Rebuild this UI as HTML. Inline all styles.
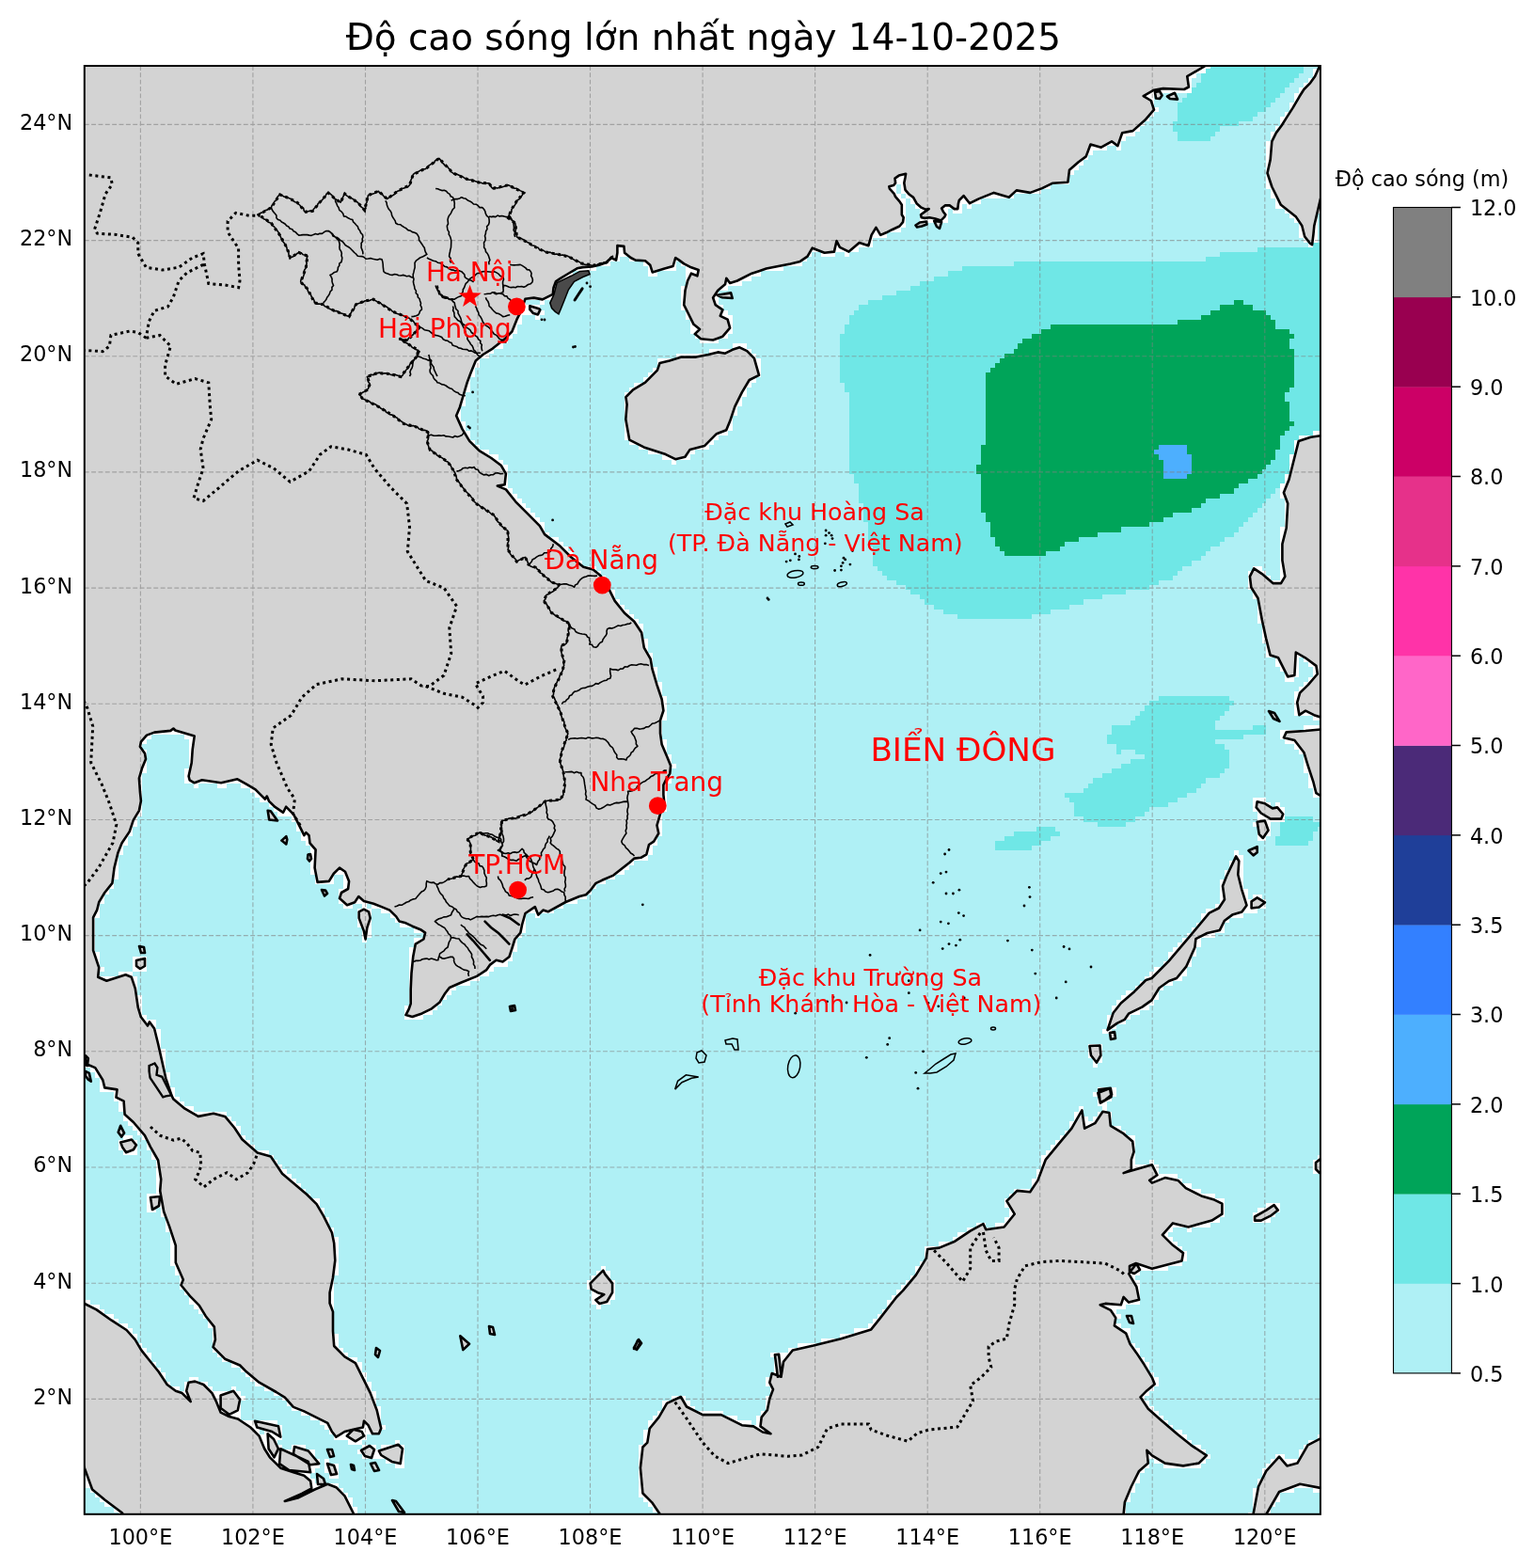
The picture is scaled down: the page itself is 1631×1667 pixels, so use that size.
<!DOCTYPE html><html><head><meta charset="utf-8"><style>html,body{margin:0;padding:0;background:#fff;}svg{display:block;}</style></head><body><svg width="1631" height="1667" viewBox="0 0 1631 1667">
<rect width="1631" height="1667" fill="#fff"/>
<defs><clipPath id="ax"><rect x="89.8" y="70.0" width="1314.1" height="1539.8"/></clipPath></defs>
<g clip-path="url(#ax)">
<rect x="89.8" y="70.0" width="1314.1" height="1539.8" fill="#aff0f5"/>
<path d="M913.1 514.2 913.1 534.8 918.1 534.8 918.1 555.3 923.1 555.3 923.1 581.0 928.0 581.0 928.0 601.5 933.0 601.5 933.0 606.6 938.0 606.6 938.0 611.8 943.0 611.8 943.0 616.9 952.9 616.9 952.9 622.0 962.9 622.0 962.9 627.2 967.9 627.2 967.9 632.3 977.8 632.3 977.8 637.4 982.8 637.4 982.8 642.5 992.8 642.5 992.8 647.7 1002.8 647.7 1002.8 652.8 1017.7 652.8 1017.7 657.9 1097.4 657.9 1097.4 652.8 1117.3 652.8 1117.3 647.7 1137.2 647.7 1137.2 642.5 1152.2 642.5 1152.2 637.4 1172.1 637.4 1172.1 632.3 1197.0 632.3 1197.0 627.2 1221.9 627.2 1221.9 622.0 1231.9 622.0 1231.9 616.9 1246.8 616.9 1246.8 611.8 1251.8 611.8 1251.8 606.6 1256.8 606.6 1256.8 601.5 1266.7 601.5 1266.7 596.4 1276.7 596.4 1276.7 591.2 1281.7 591.2 1281.7 586.1 1286.7 586.1 1286.7 581.0 1296.6 581.0 1296.6 575.8 1301.6 575.8 1301.6 570.7 1311.6 570.7 1311.6 565.6 1316.6 565.6 1316.6 560.4 1321.5 560.4 1321.5 555.3 1326.5 555.3 1326.5 550.2 1331.5 550.2 1331.5 545.0 1336.5 545.0 1336.5 539.9 1341.5 539.9 1341.5 534.8 1346.4 534.8 1346.4 529.6 1351.4 529.6 1351.4 524.5 1356.4 524.5 1356.4 519.4 1361.4 519.4 1361.4 514.2 1366.4 514.2 1366.4 504.0 1371.3 504.0 1371.3 498.8 1376.3 498.8 1376.3 493.7 1386.3 493.7 1386.3 488.6 1401.2 488.6 1401.2 483.4 1411.2 483.4 1411.2 257.6 1391.3 257.6 1391.3 262.7 1336.5 262.7 1336.5 267.9 1296.6 267.9 1296.6 273.0 1281.7 273.0 1281.7 278.1 1077.5 278.1 1077.5 283.3 1022.7 283.3 1022.7 288.4 1007.7 288.4 1007.7 293.5 992.8 293.5 992.8 298.7 977.8 298.7 977.8 303.8 967.9 303.8 967.9 308.9 952.9 308.9 952.9 314.1 938.0 314.1 938.0 319.2 923.1 319.2 923.1 324.3 913.1 324.3 913.1 329.5 908.1 329.5 908.1 334.6 903.1 334.6 903.1 344.9 898.1 344.9 898.1 355.1 893.2 355.1 893.2 406.5 898.1 406.5 898.1 416.7 903.1 416.7 903.1 504.0 908.1 504.0 908.1 514.2ZM1057.5 894.0 1057.5 904.3 1097.4 904.3 1097.4 899.2 1107.4 899.2 1107.4 894.0 1117.3 894.0 1117.3 888.9 1127.3 888.9 1127.3 883.8 1122.3 883.8 1122.3 878.6 1102.4 878.6 1102.4 883.8 1077.5 883.8 1077.5 888.9 1067.5 888.9 1067.5 894.0ZM1202.0 765.7 1202.0 770.9 1182.1 770.9 1182.1 781.1 1177.1 781.1 1177.1 791.4 1187.0 791.4 1187.0 801.7 1192.0 801.7 1192.0 796.5 1207.0 796.5 1207.0 801.7 1216.9 801.7 1216.9 806.8 1202.0 806.8 1202.0 811.9 1192.0 811.9 1192.0 817.1 1182.1 817.1 1182.1 822.2 1172.1 822.2 1172.1 827.3 1162.1 827.3 1162.1 832.5 1157.2 832.5 1157.2 837.6 1152.2 837.6 1152.2 842.7 1132.3 842.7 1132.3 847.8 1137.2 847.8 1137.2 853.0 1142.2 853.0 1142.2 868.4 1152.2 868.4 1152.2 873.5 1167.1 873.5 1167.1 878.6 1197.0 878.6 1197.0 873.5 1207.0 873.5 1207.0 868.4 1216.9 868.4 1216.9 863.2 1221.9 863.2 1221.9 858.1 1241.8 858.1 1241.8 853.0 1251.8 853.0 1251.8 847.8 1261.8 847.8 1261.8 842.7 1271.7 842.7 1271.7 837.6 1276.7 837.6 1276.7 832.5 1281.7 832.5 1281.7 827.3 1296.6 827.3 1296.6 822.2 1301.6 822.2 1301.6 817.1 1306.6 817.1 1306.6 796.5 1301.6 796.5 1301.6 791.4 1291.6 791.4 1291.6 786.3 1321.5 786.3 1321.5 781.1 1346.4 781.1 1346.4 770.9 1331.5 770.9 1331.5 776.0 1291.6 776.0 1291.6 765.7 1296.6 765.7 1296.6 760.6 1301.6 760.6 1301.6 755.5 1306.6 755.5 1306.6 750.3 1311.6 750.3 1311.6 745.2 1306.6 745.2 1306.6 740.1 1231.9 740.1 1231.9 745.2 1221.9 745.2 1221.9 750.3 1216.9 750.3 1216.9 755.5 1212.0 755.5 1212.0 760.6 1207.0 760.6 1207.0 765.7ZM1276.7 88.2 1271.7 88.2 1271.7 93.4 1266.7 93.4 1266.7 98.5 1261.8 98.5 1261.8 103.6 1256.8 103.6 1256.8 108.8 1251.8 108.8 1251.8 129.3 1246.8 129.3 1246.8 139.6 1251.8 139.6 1251.8 149.8 1286.7 149.8 1286.7 144.7 1291.6 144.7 1291.6 139.6 1296.6 139.6 1296.6 134.4 1316.6 134.4 1316.6 129.3 1331.5 129.3 1331.5 124.2 1336.5 124.2 1336.5 119.0 1346.4 119.0 1346.4 113.9 1351.4 113.9 1351.4 108.8 1356.4 108.8 1356.4 103.6 1361.4 103.6 1361.4 98.5 1366.4 98.5 1366.4 93.4 1371.3 93.4 1371.3 88.2 1376.3 88.2 1376.3 83.1 1381.3 83.1 1381.3 78.0 1386.3 78.0 1386.3 67.7 1391.3 67.7 1391.3 62.6 1281.7 62.6 1281.7 72.8 1276.7 72.8ZM1361.4 873.5 1361.4 888.9 1356.4 888.9 1356.4 899.2 1391.3 899.2 1391.3 894.0 1396.2 894.0 1396.2 883.8 1401.2 883.8 1401.2 878.6 1411.2 878.6 1411.2 873.5 1396.2 873.5 1396.2 868.4 1366.4 868.4 1366.4 873.5Z" fill="#6fe7e6" shape-rendering="crispEdges"/>
<path d="M1042.6 504.0 1042.6 545.0 1047.6 545.0 1047.6 555.3 1052.6 555.3 1052.6 570.7 1057.5 570.7 1057.5 581.0 1062.5 581.0 1062.5 586.1 1067.5 586.1 1067.5 591.2 1112.3 591.2 1112.3 586.1 1127.3 586.1 1127.3 581.0 1132.3 581.0 1132.3 575.8 1147.2 575.8 1147.2 570.7 1167.1 570.7 1167.1 565.6 1192.0 565.6 1192.0 560.4 1221.9 560.4 1221.9 555.3 1236.9 555.3 1236.9 550.2 1246.8 550.2 1246.8 545.0 1266.7 545.0 1266.7 539.9 1276.7 539.9 1276.7 534.8 1281.7 534.8 1281.7 529.6 1296.6 529.6 1296.6 524.5 1311.6 524.5 1311.6 519.4 1316.6 519.4 1316.6 514.2 1326.5 514.2 1326.5 509.1 1336.5 509.1 1336.5 504.0 1341.5 504.0 1341.5 498.8 1346.4 498.8 1346.4 493.7 1351.4 493.7 1351.4 488.6 1356.4 488.6 1356.4 478.3 1361.4 478.3 1361.4 462.9 1366.4 462.9 1366.4 457.8 1371.3 457.8 1371.3 452.6 1376.3 452.6 1376.3 447.5 1371.3 447.5 1371.3 427.0 1366.4 427.0 1366.4 416.7 1371.3 416.7 1371.3 411.6 1376.3 411.6 1376.3 370.5 1371.3 370.5 1371.3 360.3 1376.3 360.3 1376.3 355.1 1371.3 355.1 1371.3 350.0 1356.4 350.0 1356.4 339.7 1351.4 339.7 1351.4 334.6 1346.4 334.6 1346.4 329.5 1331.5 329.5 1331.5 324.3 1321.5 324.3 1321.5 319.2 1311.6 319.2 1311.6 324.3 1296.6 324.3 1296.6 329.5 1286.7 329.5 1286.7 334.6 1276.7 334.6 1276.7 339.7 1251.8 339.7 1251.8 344.9 1117.3 344.9 1117.3 350.0 1107.4 350.0 1107.4 355.1 1097.4 355.1 1097.4 360.3 1087.4 360.3 1087.4 365.4 1082.4 365.4 1082.4 370.5 1077.5 370.5 1077.5 375.7 1067.5 375.7 1067.5 380.8 1062.5 380.8 1062.5 385.9 1057.5 385.9 1057.5 391.1 1052.6 391.1 1052.6 396.2 1047.6 396.2 1047.6 473.2 1042.6 473.2 1042.6 493.7 1037.6 493.7 1037.6 504.0Z" fill="#00a459" shape-rendering="crispEdges"/>
<path d="M1231.9 473.2 1231.9 478.3 1226.9 478.3 1226.9 483.4 1231.9 483.4 1231.9 488.6 1236.9 488.6 1236.9 509.1 1261.8 509.1 1261.8 504.0 1266.7 504.0 1266.7 483.4 1261.8 483.4 1261.8 473.2Z" fill="#4daffe" shape-rendering="crispEdges"/>
<path d="M81.3 62.6 81.3 1130.1 86.2 1130.1 86.2 1135.3 96.2 1135.3 96.2 1140.4 101.2 1140.4 101.2 1145.5 106.2 1145.5 106.2 1160.9 121.1 1160.9 121.1 1171.2 126.1 1171.2 126.1 1181.5 131.1 1181.5 131.1 1191.7 136.1 1191.7 136.1 1196.9 141.0 1196.9 141.0 1202.0 146.0 1202.0 146.0 1207.1 151.0 1207.1 151.0 1212.3 156.0 1212.3 156.0 1222.5 161.0 1222.5 161.0 1232.8 165.9 1232.8 165.9 1268.7 156.0 1268.7 156.0 1289.2 165.9 1289.2 165.9 1284.1 170.9 1284.1 170.9 1294.4 175.9 1294.4 175.9 1309.8 180.9 1309.8 180.9 1345.7 185.9 1345.7 185.9 1356.0 190.8 1356.0 190.8 1371.4 195.8 1371.4 195.8 1376.5 200.8 1376.5 200.8 1386.8 205.8 1386.8 205.8 1391.9 210.8 1391.9 210.8 1397.0 215.8 1397.0 215.8 1402.2 220.7 1402.2 220.7 1412.4 225.7 1412.4 225.7 1438.1 230.7 1438.1 230.7 1443.2 235.7 1443.2 235.7 1448.4 245.6 1448.4 245.6 1453.5 255.6 1453.5 255.6 1458.6 260.6 1458.6 260.6 1463.7 265.6 1463.7 265.6 1468.9 270.5 1468.9 270.5 1474.0 280.5 1474.0 280.5 1479.1 290.5 1479.1 290.5 1484.3 300.4 1484.3 300.4 1489.4 305.4 1489.4 305.4 1494.5 310.4 1494.5 310.4 1499.7 320.4 1499.7 320.4 1504.8 330.3 1504.8 330.3 1509.9 340.3 1509.9 340.3 1515.1 345.3 1515.1 345.3 1520.2 350.2 1520.2 350.2 1525.3 355.2 1525.3 355.2 1530.5 370.2 1530.5 370.2 1535.6 385.1 1535.6 385.1 1530.5 390.1 1530.5 390.1 1525.3 405.0 1525.3 405.0 1520.2 410.0 1520.2 410.0 1515.1 405.0 1515.1 405.0 1494.5 400.0 1494.5 400.0 1479.1 395.1 1479.1 395.1 1468.9 390.1 1468.9 390.1 1458.6 385.1 1458.6 385.1 1448.4 380.1 1448.4 380.1 1443.2 370.2 1443.2 370.2 1438.1 365.2 1438.1 365.2 1433.0 360.2 1433.0 360.2 1417.6 355.2 1417.6 355.2 1356.0 360.2 1356.0 360.2 1314.9 355.2 1314.9 355.2 1304.6 350.2 1304.6 350.2 1294.4 345.3 1294.4 345.3 1284.1 340.3 1284.1 340.3 1273.8 330.3 1273.8 330.3 1268.7 325.3 1268.7 325.3 1263.6 320.4 1263.6 320.4 1258.4 315.4 1258.4 315.4 1253.3 310.4 1253.3 310.4 1248.2 305.4 1248.2 305.4 1243.0 300.4 1243.0 300.4 1237.9 295.4 1237.9 295.4 1232.8 290.5 1232.8 290.5 1227.7 285.5 1227.7 285.5 1222.5 270.5 1222.5 270.5 1217.4 265.6 1217.4 265.6 1212.3 260.6 1212.3 260.6 1207.1 255.6 1207.1 255.6 1196.9 250.6 1196.9 250.6 1191.7 245.6 1191.7 245.6 1186.6 240.7 1186.6 240.7 1181.5 205.8 1181.5 205.8 1176.3 195.8 1176.3 195.8 1171.2 190.8 1171.2 190.8 1166.1 185.9 1166.1 185.9 1155.8 180.9 1155.8 180.9 1140.4 175.9 1140.4 175.9 1114.7 170.9 1114.7 170.9 1094.2 165.9 1094.2 165.9 1083.9 156.0 1083.9 156.0 1078.8 151.0 1078.8 151.0 1058.3 146.0 1058.3 146.0 1037.8 141.0 1037.8 141.0 1032.6 126.1 1032.6 126.1 1037.8 106.2 1037.8 106.2 1032.6 111.2 1032.6 111.2 1027.5 106.2 1027.5 106.2 1012.1 101.2 1012.1 101.2 976.2 106.2 976.2 106.2 960.8 111.2 960.8 111.2 950.5 116.1 950.5 116.1 945.4 121.1 945.4 121.1 935.1 126.1 935.1 126.1 909.4 131.1 909.4 131.1 899.2 136.1 899.2 136.1 888.9 141.0 888.9 141.0 878.6 146.0 878.6 146.0 868.4 151.0 868.4 151.0 822.2 156.0 822.2 156.0 796.5 151.0 796.5 151.0 791.4 156.0 791.4 156.0 786.3 161.0 786.3 161.0 781.1 195.8 781.1 195.8 786.3 200.8 786.3 200.8 817.1 195.8 817.1 195.8 832.5 205.8 832.5 205.8 837.6 210.8 837.6 210.8 832.5 230.7 832.5 230.7 837.6 240.7 837.6 240.7 832.5 255.6 832.5 255.6 837.6 265.6 837.6 265.6 842.7 270.5 842.7 270.5 847.8 275.5 847.8 275.5 853.0 285.5 853.0 285.5 858.1 290.5 858.1 290.5 863.2 295.4 863.2 295.4 868.4 310.4 868.4 310.4 873.5 315.4 873.5 315.4 883.8 320.4 883.8 320.4 894.0 325.3 894.0 325.3 899.2 330.3 899.2 330.3 930.0 335.3 930.0 335.3 940.2 355.2 940.2 355.2 930.0 365.2 930.0 365.2 945.4 360.2 945.4 360.2 960.8 365.2 960.8 365.2 965.9 375.1 965.9 375.1 960.8 385.1 960.8 385.1 965.9 380.1 965.9 380.1 986.4 385.1 986.4 385.1 1001.8 390.1 1001.8 390.1 996.7 395.1 996.7 395.1 965.9 405.0 965.9 405.0 971.0 415.0 971.0 415.0 976.2 420.0 976.2 420.0 981.3 425.0 981.3 425.0 986.4 439.9 986.4 439.9 991.6 449.9 991.6 449.9 996.7 439.9 996.7 439.9 1007.0 434.9 1007.0 434.9 1068.5 429.9 1068.5 429.9 1083.9 449.9 1083.9 449.9 1078.8 459.8 1078.8 459.8 1073.7 464.8 1073.7 464.8 1068.5 469.8 1068.5 469.8 1063.4 474.8 1063.4 474.8 1058.3 479.7 1058.3 479.7 1053.1 484.7 1053.1 484.7 1048.0 499.7 1048.0 499.7 1042.9 509.6 1042.9 509.6 1037.8 519.6 1037.8 519.6 1032.6 524.6 1032.6 524.6 1027.5 539.5 1027.5 539.5 1022.4 544.5 1022.4 544.5 1012.1 549.5 1012.1 549.5 996.7 554.5 996.7 554.5 991.6 559.4 991.6 559.4 971.0 569.4 971.0 569.4 976.2 574.4 976.2 574.4 971.0 589.3 971.0 589.3 965.9 599.3 965.9 599.3 960.8 614.2 960.8 614.2 955.6 624.2 955.6 624.2 950.5 629.2 950.5 629.2 945.4 634.2 945.4 634.2 940.2 644.1 940.2 644.1 935.1 654.1 935.1 654.1 930.0 664.0 930.0 664.0 924.8 669.0 924.8 669.0 919.7 674.0 919.7 674.0 914.6 688.9 914.6 688.9 909.4 693.9 909.4 693.9 899.2 698.9 899.2 698.9 888.9 703.9 888.9 703.9 863.2 708.9 863.2 708.9 832.5 713.9 832.5 713.9 817.1 718.8 817.1 718.8 811.9 713.9 811.9 713.9 801.7 708.9 801.7 708.9 786.3 703.9 786.3 703.9 765.7 708.9 765.7 708.9 740.1 703.9 740.1 703.9 724.7 698.9 724.7 698.9 709.3 693.9 709.3 693.9 693.9 688.9 693.9 688.9 678.5 684.0 678.5 684.0 663.1 679.0 663.1 679.0 657.9 674.0 657.9 674.0 652.8 669.0 652.8 669.0 647.7 664.0 647.7 664.0 642.5 659.1 642.5 659.1 637.4 654.1 637.4 654.1 627.2 649.1 627.2 649.1 616.9 644.1 616.9 644.1 611.8 639.1 611.8 639.1 606.6 634.2 606.6 634.2 601.5 619.2 601.5 619.2 596.4 614.2 596.4 614.2 591.2 609.3 591.2 609.3 586.1 604.3 586.1 604.3 581.0 599.3 581.0 599.3 575.8 594.3 575.8 594.3 570.7 584.3 570.7 584.3 565.6 579.4 565.6 579.4 555.3 574.4 555.3 574.4 550.2 569.4 550.2 569.4 545.0 564.4 545.0 564.4 539.9 559.4 539.9 559.4 534.8 554.5 534.8 554.5 529.6 549.5 529.6 549.5 524.5 544.5 524.5 544.5 519.4 539.5 519.4 539.5 493.7 534.5 493.7 534.5 488.6 529.6 488.6 529.6 483.4 519.6 483.4 519.6 478.3 509.6 478.3 509.6 473.2 504.6 473.2 504.6 468.0 499.7 468.0 499.7 457.8 494.7 457.8 494.7 447.5 489.7 447.5 489.7 432.1 494.7 432.1 494.7 416.7 499.7 416.7 499.7 401.3 504.6 401.3 504.6 391.1 509.6 391.1 509.6 380.8 519.6 380.8 519.6 375.7 524.6 375.7 524.6 370.5 534.5 370.5 534.5 365.4 539.5 365.4 539.5 360.3 544.5 360.3 544.5 355.1 549.5 355.1 549.5 344.9 554.5 344.9 554.5 334.6 569.4 334.6 569.4 339.7 574.4 339.7 574.4 334.6 579.4 334.6 579.4 329.5 574.4 329.5 574.4 324.3 579.4 324.3 579.4 319.2 589.3 319.2 589.3 308.9 594.3 308.9 594.3 298.7 604.3 298.7 604.3 293.5 609.3 293.5 609.3 288.4 634.2 288.4 634.2 283.3 649.1 283.3 649.1 278.1 659.1 278.1 659.1 273.0 669.0 273.0 669.0 278.1 684.0 278.1 684.0 283.3 688.9 283.3 688.9 293.5 698.9 293.5 698.9 288.4 718.8 288.4 718.8 278.1 723.8 278.1 723.8 283.3 728.8 283.3 728.8 303.8 723.8 303.8 723.8 329.5 728.8 329.5 728.8 339.7 733.8 339.7 733.8 355.1 738.8 355.1 738.8 360.3 743.7 360.3 743.7 365.4 763.7 365.4 763.7 360.3 773.6 360.3 773.6 355.1 778.6 355.1 778.6 334.6 773.6 334.6 773.6 329.5 768.6 329.5 768.6 324.3 763.7 324.3 763.7 308.9 773.6 308.9 773.6 303.8 788.6 303.8 788.6 298.7 798.5 298.7 798.5 293.5 808.5 293.5 808.5 288.4 833.4 288.4 833.4 283.3 853.3 283.3 853.3 278.1 858.3 278.1 858.3 273.0 863.3 273.0 863.3 267.9 873.2 267.9 873.2 273.0 888.2 273.0 888.2 267.9 898.1 267.9 898.1 273.0 903.1 273.0 903.1 267.9 913.1 267.9 913.1 262.7 928.0 262.7 928.0 252.5 943.0 252.5 943.0 247.3 957.9 247.3 957.9 242.2 962.9 242.2 962.9 211.4 967.9 211.4 967.9 216.5 972.9 216.5 972.9 221.7 977.8 221.7 977.8 237.1 1007.7 237.1 1007.7 221.7 1012.7 221.7 1012.7 226.8 1022.7 226.8 1022.7 216.5 1027.7 216.5 1027.7 221.7 1032.6 221.7 1032.6 216.5 1042.6 216.5 1042.6 211.4 1077.5 211.4 1077.5 206.3 1107.4 206.3 1107.4 201.2 1117.3 201.2 1117.3 196.0 1137.2 196.0 1137.2 185.8 1142.2 185.8 1142.2 180.6 1147.2 180.6 1147.2 175.5 1152.2 175.5 1152.2 170.4 1157.2 170.4 1157.2 165.2 1162.1 165.2 1162.1 160.1 1177.1 160.1 1177.1 155.0 1187.0 155.0 1187.0 160.1 1192.0 160.1 1192.0 149.8 1197.0 149.8 1197.0 144.7 1207.0 144.7 1207.0 139.6 1212.0 139.6 1212.0 134.4 1216.9 134.4 1216.9 129.3 1221.9 129.3 1221.9 124.2 1226.9 124.2 1226.9 119.0 1231.9 119.0 1231.9 113.9 1226.9 113.9 1226.9 98.5 1266.7 98.5 1266.7 83.1 1271.7 83.1 1271.7 78.0 1281.7 78.0 1281.7 72.8 1286.7 72.8 1286.7 62.6ZM390.1 965.9 390.1 960.8 395.1 960.8 395.1 965.9ZM559.4 324.3 559.4 319.2 574.4 319.2 574.4 324.3ZM957.9 211.4 957.9 206.3 962.9 206.3 962.9 211.4ZM952.9 206.3 952.9 196.0 957.9 196.0 957.9 206.3ZM141.0 1207.1 131.1 1207.1 131.1 1212.3 126.1 1212.3 126.1 1222.5 131.1 1222.5 131.1 1227.7 146.0 1227.7 146.0 1212.3 141.0 1212.3ZM81.3 1381.6 81.3 1556.1 86.2 1556.1 86.2 1566.4 91.2 1566.4 91.2 1581.8 96.2 1581.8 96.2 1586.9 101.2 1586.9 101.2 1592.1 106.2 1592.1 106.2 1597.2 111.2 1597.2 111.2 1602.3 121.1 1602.3 121.1 1607.5 126.1 1607.5 126.1 1612.6 131.1 1612.6 131.1 1617.7 380.1 1617.7 380.1 1602.3 375.1 1602.3 375.1 1592.1 370.2 1592.1 370.2 1586.9 365.2 1586.9 365.2 1581.8 360.2 1581.8 360.2 1576.7 335.3 1576.7 335.3 1571.5 330.3 1571.5 330.3 1566.4 335.3 1566.4 335.3 1561.3 340.3 1561.3 340.3 1551.0 335.3 1551.0 335.3 1540.7 325.3 1540.7 325.3 1535.6 310.4 1535.6 310.4 1540.7 300.4 1540.7 300.4 1535.6 295.4 1535.6 295.4 1530.5 300.4 1530.5 300.4 1515.1 295.4 1515.1 295.4 1509.9 255.6 1509.9 255.6 1489.4 260.6 1489.4 260.6 1484.3 255.6 1484.3 255.6 1479.1 250.6 1479.1 250.6 1474.0 245.6 1474.0 245.6 1479.1 225.7 1479.1 225.7 1474.0 220.7 1474.0 220.7 1468.9 210.8 1468.9 210.8 1463.7 200.8 1463.7 200.8 1468.9 195.8 1468.9 195.8 1479.1 190.8 1479.1 190.8 1474.0 180.9 1474.0 180.9 1468.9 175.9 1468.9 175.9 1458.6 170.9 1458.6 170.9 1453.5 165.9 1453.5 165.9 1448.4 161.0 1448.4 161.0 1438.1 156.0 1438.1 156.0 1433.0 151.0 1433.0 151.0 1427.8 146.0 1427.8 146.0 1417.6 141.0 1417.6 141.0 1412.4 136.1 1412.4 136.1 1407.3 126.1 1407.3 126.1 1402.2 121.1 1402.2 121.1 1397.0 111.2 1397.0 111.2 1391.9 106.2 1391.9 106.2 1386.8 96.2 1386.8 96.2 1381.6ZM275.5 1520.2 280.5 1520.2 280.5 1525.3 275.5 1525.3ZM141.0 1017.2 141.0 1032.6 156.0 1032.6 156.0 1017.2ZM360.2 1571.5 360.2 1556.1 350.2 1556.1 350.2 1551.0 345.3 1551.0 345.3 1566.4 350.2 1566.4 350.2 1571.5ZM405.0 1535.6 405.0 1540.7 400.0 1540.7 400.0 1535.6 385.1 1535.6 385.1 1540.7 380.1 1540.7 380.1 1545.9 385.1 1545.9 385.1 1551.0 410.0 1551.0 410.0 1556.1 420.0 1556.1 420.0 1561.3 429.9 1561.3 429.9 1535.6 425.0 1535.6 425.0 1530.5 420.0 1530.5 420.0 1535.6ZM688.9 478.3 688.9 483.4 703.9 483.4 703.9 488.6 713.9 488.6 713.9 493.7 718.8 493.7 718.8 488.6 733.8 488.6 733.8 483.4 738.8 483.4 738.8 478.3 753.7 478.3 753.7 473.2 758.7 473.2 758.7 468.0 763.7 468.0 763.7 462.9 773.6 462.9 773.6 457.8 778.6 457.8 778.6 442.4 783.6 442.4 783.6 432.1 788.6 432.1 788.6 421.9 793.5 421.9 793.5 411.6 798.5 411.6 798.5 406.5 803.5 406.5 803.5 401.3 808.5 401.3 808.5 380.8 803.5 380.8 803.5 375.7 798.5 375.7 798.5 370.5 793.5 370.5 793.5 365.4 778.6 365.4 778.6 370.5 753.7 370.5 753.7 375.7 718.8 375.7 718.8 380.8 698.9 380.8 698.9 391.1 693.9 391.1 693.9 396.2 688.9 396.2 688.9 401.3 684.0 401.3 684.0 406.5 674.0 406.5 674.0 411.6 669.0 411.6 669.0 416.7 664.0 416.7 664.0 468.0 669.0 468.0 669.0 473.2 679.0 473.2 679.0 478.3ZM629.2 1361.1 624.2 1361.1 624.2 1371.4 629.2 1371.4 629.2 1386.8 634.2 1386.8 634.2 1391.9 639.1 1391.9 639.1 1386.8 649.1 1386.8 649.1 1381.6 654.1 1381.6 654.1 1361.1 649.1 1361.1 649.1 1350.8 644.1 1350.8 644.1 1345.7 639.1 1345.7 639.1 1350.8 634.2 1350.8 634.2 1356.0 629.2 1356.0ZM823.4 1443.2 823.4 1458.6 818.5 1458.6 818.5 1463.7 813.5 1463.7 813.5 1474.0 818.5 1474.0 818.5 1484.3 813.5 1484.3 813.5 1499.7 808.5 1499.7 808.5 1504.8 803.5 1504.8 803.5 1515.1 798.5 1515.1 798.5 1509.9 783.6 1509.9 783.6 1504.8 768.6 1504.8 768.6 1499.7 738.8 1499.7 738.8 1494.5 733.8 1494.5 733.8 1489.4 728.8 1489.4 728.8 1484.3 713.9 1484.3 713.9 1489.4 703.9 1489.4 703.9 1499.7 698.9 1499.7 698.9 1504.8 693.9 1504.8 693.9 1509.9 688.9 1509.9 688.9 1520.2 684.0 1520.2 684.0 1535.6 679.0 1535.6 679.0 1592.1 684.0 1592.1 684.0 1597.2 688.9 1597.2 688.9 1602.3 693.9 1602.3 693.9 1607.5 698.9 1607.5 698.9 1617.7 1197.0 1617.7 1197.0 1597.2 1202.0 1597.2 1202.0 1586.9 1207.0 1586.9 1207.0 1576.7 1212.0 1576.7 1212.0 1566.4 1216.9 1566.4 1216.9 1561.3 1221.9 1561.3 1221.9 1551.0 1226.9 1551.0 1226.9 1556.1 1236.9 1556.1 1236.9 1561.3 1276.7 1561.3 1276.7 1556.1 1281.7 1556.1 1281.7 1551.0 1286.7 1551.0 1286.7 1545.9 1281.7 1545.9 1281.7 1540.7 1276.7 1540.7 1276.7 1535.6 1266.7 1535.6 1266.7 1530.5 1261.8 1530.5 1261.8 1525.3 1256.8 1525.3 1256.8 1520.2 1246.8 1520.2 1246.8 1515.1 1241.8 1515.1 1241.8 1509.9 1236.9 1509.9 1236.9 1504.8 1231.9 1504.8 1231.9 1499.7 1226.9 1499.7 1226.9 1494.5 1221.9 1494.5 1221.9 1489.4 1216.9 1489.4 1216.9 1484.3 1221.9 1484.3 1221.9 1479.1 1226.9 1479.1 1226.9 1474.0 1231.9 1474.0 1231.9 1463.7 1226.9 1463.7 1226.9 1458.6 1221.9 1458.6 1221.9 1448.4 1216.9 1448.4 1216.9 1443.2 1212.0 1443.2 1212.0 1433.0 1207.0 1433.0 1207.0 1427.8 1202.0 1427.8 1202.0 1412.4 1192.0 1412.4 1192.0 1407.3 1187.0 1407.3 1187.0 1402.2 1192.0 1402.2 1192.0 1397.0 1187.0 1397.0 1187.0 1391.9 1197.0 1391.9 1197.0 1386.8 1212.0 1386.8 1212.0 1361.1 1207.0 1361.1 1207.0 1356.0 1212.0 1356.0 1212.0 1350.8 1241.8 1350.8 1241.8 1345.7 1256.8 1345.7 1256.8 1340.6 1261.8 1340.6 1261.8 1330.3 1256.8 1330.3 1256.8 1325.2 1251.8 1325.2 1251.8 1320.0 1246.8 1320.0 1246.8 1314.9 1241.8 1314.9 1241.8 1309.8 1246.8 1309.8 1246.8 1304.6 1261.8 1304.6 1261.8 1309.8 1266.7 1309.8 1266.7 1304.6 1286.7 1304.6 1286.7 1299.5 1296.6 1299.5 1296.6 1294.4 1301.6 1294.4 1301.6 1273.8 1291.6 1273.8 1291.6 1268.7 1276.7 1268.7 1276.7 1263.6 1266.7 1263.6 1266.7 1258.4 1256.8 1258.4 1256.8 1253.3 1251.8 1253.3 1251.8 1248.2 1231.9 1248.2 1231.9 1237.9 1226.9 1237.9 1226.9 1232.8 1221.9 1232.8 1221.9 1237.9 1207.0 1237.9 1207.0 1207.1 1197.0 1207.1 1197.0 1202.0 1192.0 1202.0 1192.0 1196.9 1182.1 1196.9 1182.1 1181.5 1177.1 1181.5 1177.1 1171.2 1182.1 1171.2 1182.1 1166.1 1187.0 1166.1 1187.0 1155.8 1167.1 1155.8 1167.1 1160.9 1162.1 1160.9 1162.1 1166.1 1167.1 1166.1 1167.1 1176.3 1172.1 1176.3 1172.1 1181.5 1167.1 1181.5 1167.1 1186.6 1162.1 1186.6 1162.1 1191.7 1157.2 1191.7 1157.2 1186.6 1152.2 1186.6 1152.2 1176.3 1147.2 1176.3 1147.2 1181.5 1142.2 1181.5 1142.2 1191.7 1137.2 1191.7 1137.2 1202.0 1132.3 1202.0 1132.3 1207.1 1127.3 1207.1 1127.3 1212.3 1122.3 1212.3 1122.3 1217.4 1117.3 1217.4 1117.3 1222.5 1112.3 1222.5 1112.3 1227.7 1107.4 1227.7 1107.4 1243.0 1102.4 1243.0 1102.4 1253.3 1097.4 1253.3 1097.4 1263.6 1077.5 1263.6 1077.5 1268.7 1072.5 1268.7 1072.5 1273.8 1067.5 1273.8 1067.5 1284.1 1072.5 1284.1 1072.5 1294.4 1067.5 1294.4 1067.5 1299.5 1057.5 1299.5 1057.5 1304.6 1047.6 1304.6 1047.6 1299.5 1037.6 1299.5 1037.6 1304.6 1027.7 1304.6 1027.7 1309.8 1017.7 1309.8 1017.7 1314.9 1012.7 1314.9 1012.7 1320.0 997.8 1320.0 997.8 1325.2 982.8 1325.2 982.8 1340.6 977.8 1340.6 977.8 1345.7 972.9 1345.7 972.9 1356.0 967.9 1356.0 967.9 1361.1 962.9 1361.1 962.9 1366.2 957.9 1366.2 957.9 1371.4 952.9 1371.4 952.9 1376.5 948.0 1376.5 948.0 1381.6 943.0 1381.6 943.0 1391.9 938.0 1391.9 938.0 1397.0 933.0 1397.0 933.0 1402.2 928.0 1402.2 928.0 1407.3 923.1 1407.3 923.1 1412.4 908.1 1412.4 908.1 1417.6 893.2 1417.6 893.2 1422.7 873.2 1422.7 873.2 1427.8 848.3 1427.8 848.3 1433.0 838.4 1433.0 838.4 1438.1 818.5 1438.1 818.5 1443.2ZM1236.9 1022.4 1236.9 1027.5 1226.9 1027.5 1226.9 1032.6 1221.9 1032.6 1221.9 1037.8 1216.9 1037.8 1216.9 1042.9 1212.0 1042.9 1212.0 1048.0 1207.0 1048.0 1207.0 1053.1 1197.0 1053.1 1197.0 1058.3 1192.0 1058.3 1192.0 1063.4 1187.0 1063.4 1187.0 1068.5 1182.1 1068.5 1182.1 1078.8 1177.1 1078.8 1177.1 1094.2 1172.1 1094.2 1172.1 1099.3 1182.1 1099.3 1182.1 1094.2 1187.0 1094.2 1187.0 1089.1 1197.0 1089.1 1197.0 1083.9 1202.0 1083.9 1202.0 1078.8 1212.0 1078.8 1212.0 1073.7 1221.9 1073.7 1221.9 1068.5 1226.9 1068.5 1226.9 1063.4 1231.9 1063.4 1231.9 1053.1 1236.9 1053.1 1236.9 1048.0 1246.8 1048.0 1246.8 1042.9 1256.8 1042.9 1256.8 1037.8 1261.8 1037.8 1261.8 1027.5 1266.7 1027.5 1266.7 1017.2 1271.7 1017.2 1271.7 1007.0 1276.7 1007.0 1276.7 996.7 1291.6 996.7 1291.6 991.6 1301.6 991.6 1301.6 981.3 1306.6 981.3 1306.6 976.2 1321.5 976.2 1321.5 971.0 1336.5 971.0 1336.5 965.9 1346.4 965.9 1346.4 955.6 1341.5 955.6 1341.5 950.5 1331.5 950.5 1331.5 955.6 1326.5 955.6 1326.5 945.4 1321.5 945.4 1321.5 909.4 1316.6 909.4 1316.6 904.3 1311.6 904.3 1311.6 914.6 1306.6 914.6 1306.6 924.8 1301.6 924.8 1301.6 935.1 1296.6 935.1 1296.6 960.8 1291.6 960.8 1291.6 965.9 1281.7 965.9 1281.7 971.0 1276.7 971.0 1276.7 981.3 1271.7 981.3 1271.7 986.4 1266.7 986.4 1266.7 991.6 1261.8 991.6 1261.8 996.7 1256.8 996.7 1256.8 1001.8 1251.8 1001.8 1251.8 1007.0 1246.8 1007.0 1246.8 1012.1 1241.8 1012.1 1241.8 1022.4ZM1167.1 1130.1 1172.1 1130.1 1172.1 1109.6 1157.2 1109.6 1157.2 1125.0 1162.1 1125.0 1162.1 1135.3 1167.1 1135.3ZM1351.4 139.6 1351.4 149.8 1346.4 149.8 1346.4 201.2 1351.4 201.2 1351.4 211.4 1356.4 211.4 1356.4 221.7 1366.4 221.7 1366.4 226.8 1371.3 226.8 1371.3 231.9 1376.3 231.9 1376.3 237.1 1381.3 237.1 1381.3 252.5 1386.3 252.5 1386.3 257.6 1391.3 257.6 1391.3 262.7 1396.2 262.7 1396.2 257.6 1401.2 257.6 1401.2 226.8 1406.2 226.8 1406.2 211.4 1411.2 211.4 1411.2 62.6 1401.2 62.6 1401.2 72.8 1396.2 72.8 1396.2 83.1 1391.3 83.1 1391.3 88.2 1386.3 88.2 1386.3 93.4 1381.3 93.4 1381.3 98.5 1376.3 98.5 1376.3 108.8 1371.3 108.8 1371.3 119.0 1366.4 119.0 1366.4 124.2 1361.4 124.2 1361.4 134.4 1356.4 134.4 1356.4 139.6ZM1411.2 765.7 1411.2 457.8 1396.2 457.8 1396.2 462.9 1381.3 462.9 1381.3 468.0 1376.3 468.0 1376.3 483.4 1371.3 483.4 1371.3 504.0 1366.4 504.0 1366.4 514.2 1361.4 514.2 1361.4 529.6 1366.4 529.6 1366.4 560.4 1361.4 560.4 1361.4 616.9 1351.4 616.9 1351.4 611.8 1346.4 611.8 1346.4 606.6 1341.5 606.6 1341.5 601.5 1331.5 601.5 1331.5 606.6 1326.5 606.6 1326.5 627.2 1331.5 627.2 1331.5 637.4 1336.5 637.4 1336.5 663.1 1341.5 663.1 1341.5 683.6 1346.4 683.6 1346.4 699.0 1356.4 699.0 1356.4 709.3 1361.4 709.3 1361.4 714.4 1366.4 714.4 1366.4 724.7 1376.3 724.7 1376.3 719.5 1381.3 719.5 1381.3 699.0 1386.3 699.0 1386.3 704.1 1391.3 704.1 1391.3 709.3 1396.2 709.3 1396.2 719.5 1391.3 719.5 1391.3 724.7 1386.3 724.7 1386.3 729.8 1381.3 729.8 1381.3 734.9 1376.3 734.9 1376.3 760.6 1396.2 760.6 1396.2 765.7ZM1331.5 873.5 1331.5 878.6 1336.5 878.6 1336.5 894.0 1346.4 894.0 1346.4 888.9 1351.4 888.9 1351.4 873.5 1366.4 873.5 1366.4 858.1 1361.4 858.1 1361.4 853.0 1356.4 853.0 1356.4 858.1 1351.4 858.1 1351.4 853.0 1346.4 853.0 1346.4 847.8 1331.5 847.8 1331.5 863.2 1336.5 863.2 1336.5 873.5ZM1351.4 1294.4 1356.4 1294.4 1356.4 1289.2 1361.4 1289.2 1361.4 1279.0 1346.4 1279.0 1346.4 1284.1 1336.5 1284.1 1336.5 1289.2 1331.5 1289.2 1331.5 1299.5 1351.4 1299.5ZM1356.4 1545.9 1356.4 1551.0 1351.4 1551.0 1351.4 1556.1 1346.4 1556.1 1346.4 1561.3 1341.5 1561.3 1341.5 1571.5 1336.5 1571.5 1336.5 1581.8 1331.5 1581.8 1331.5 1607.5 1326.5 1607.5 1326.5 1617.7 1351.4 1617.7 1351.4 1602.3 1356.4 1602.3 1356.4 1597.2 1361.4 1597.2 1361.4 1586.9 1376.3 1586.9 1376.3 1581.8 1396.2 1581.8 1396.2 1586.9 1411.2 1586.9 1411.2 1525.3 1401.2 1525.3 1401.2 1530.5 1391.3 1530.5 1391.3 1535.6 1386.3 1535.6 1386.3 1540.7 1381.3 1540.7 1381.3 1551.0 1366.4 1551.0 1366.4 1545.9ZM1376.3 796.5 1381.3 796.5 1381.3 801.7 1386.3 801.7 1386.3 822.2 1391.3 822.2 1391.3 837.6 1396.2 837.6 1396.2 847.8 1411.2 847.8 1411.2 770.9 1386.3 770.9 1386.3 776.0 1361.4 776.0 1361.4 786.3 1366.4 786.3 1366.4 791.4 1376.3 791.4ZM1411.2 1248.2 1411.2 1227.7 1401.2 1227.7 1401.2 1232.8 1396.2 1232.8 1396.2 1248.2Z" fill="#fff" shape-rendering="crispEdges"/>
<path d="M80.0 60.0 L1284.0 60.0 L1281.6 70.0 L1262.3 81.2 L1263.9 92.5 L1259.0 95.0 L1236.6 94.1 L1227.0 95.7 L1215.7 102.1 L1223.8 107.0 L1227.0 116.6 L1217.3 127.8 L1204.5 139.1 L1193.2 141.3 L1188.4 155.1 L1182.0 150.3 L1170.8 156.7 L1159.5 153.5 L1154.7 166.4 L1146.7 172.2 L1137.0 180.8 L1135.4 193.7 L1119.4 194.7 L1108.1 200.1 L1095.3 204.9 L1080.8 202.4 L1072.8 209.8 L1056.7 204.9 L1040.6 211.4 L1031.0 216.2 L1024.6 208.1 L1019.8 213.0 L1018.9 216.6 L1018.3 222.1 L1014.6 222.1 L1009.7 218.4 L1004.8 218.4 L1001.1 221.5 L1003.0 225.2 L1005.4 228.2 L1004.2 230.7 L1000.5 234.4 L994.4 232.5 L988.2 231.3 L983.3 231.9 L979.7 231.3 L979.0 228.2 L984.0 224.6 L987.6 222.1 L984.0 222.7 L979.0 220.3 L974.8 216.6 L971.1 209.9 L966.8 206.8 L962.5 201.9 L961.3 194.5 L962.5 188.4 L963.1 184.7 L955.8 186.6 L951.5 189.6 L952.1 194.5 L950.2 197.0 L945.3 198.2 L945.9 200.7 L950.8 206.2 L952.1 209.2 L956.4 214.1 L958.8 217.8 L958.8 228.2 L960.7 231.3 L960.0 236.2 L956.4 240.5 L948.4 244.2 L942.3 247.3 L936.2 249.9 L931.4 241.9 L926.6 249.9 L923.4 261.2 L913.7 258.0 L902.5 267.6 L892.9 262.8 L889.5 256.2 L886.9 267.6 L876.6 268.8 L863.7 263.7 L858.5 272.7 L850.8 277.9 L840.5 280.4 L827.6 283.0 L814.8 285.6 L807.0 288.2 L799.3 290.7 L783.9 298.5 L776.1 301.0 L772.3 295.9 L771.0 302.3 L763.3 308.8 L758.1 316.5 L760.7 324.2 L768.4 329.4 L765.8 335.8 L773.6 339.7 L776.1 348.7 L768.4 357.7 L758.1 361.5 L745.2 360.3 L738.8 355.1 L744.0 350.0 L737.5 344.8 L732.4 334.5 L727.2 324.2 L728.5 308.8 L731.1 298.5 L734.9 290.7 L741.4 293.3 L742.7 286.9 L734.9 284.3 L727.2 280.4 L722.1 276.6 L718.2 274.0 L715.6 283.0 L706.6 285.6 L693.7 289.4 L691.2 281.7 L686.0 277.3 L675.7 276.6 L670.6 274.0 L664.1 268.8 L663.4 261.9 L656.4 261.1 L656.4 268.8 L655.1 276.6 L650.0 274.0 L644.8 279.1 L637.1 281.7 L629.4 283.5 L619.7 284.1 L613.6 285.3 L604.0 291.0 L595.2 296.4 L590.9 299.4 L588.5 306.0 L587.8 312.9 L576.8 318.4 L567.6 316.6 L558.4 317.8 L554.7 329.4 L549.5 339.7 L544.4 352.5 L536.7 360.3 L523.8 370.6 L513.5 377.0 L505.8 383.4 L500.6 396.3 L496.7 406.6 L492.9 419.5 L488.9 432.9 L485.1 441.9 L491.5 456.1 L499.2 468.9 L509.5 479.2 L522.4 487.0 L532.7 494.7 L537.9 503.7 L536.6 515.3 L528.8 516.6 L537.9 520.4 L548.2 533.3 L561.0 546.2 L573.9 559.1 L579.1 568.1 L594.5 579.7 L607.4 592.5 L620.3 602.8 L630.6 605.4 L638.3 611.8 L646.0 623.4 L653.7 638.9 L664.0 651.8 L674.3 660.8 L682.1 672.4 L684.8 688.6 L691.7 700.6 L693.4 710.9 L698.5 728.1 L703.7 743.5 L705.4 755.5 L702.0 765.8 L702.0 779.6 L703.7 791.6 L708.8 803.6 L713.1 813.9 L712.3 822.5 L708.8 827.6 L705.4 834.5 L705.4 844.8 L706.3 853.4 L702.0 865.4 L698.5 877.4 L700.3 886.0 L695.1 894.6 L690.0 898.0 L687.4 908.3 L681.4 911.8 L674.5 912.6 L669.4 916.9 L660.8 923.8 L652.2 930.6 L640.2 935.8 L633.3 939.2 L628.2 946.1 L623.0 951.2 L616.1 953.0 L601.5 959.0 L582.6 969.3 L577.4 967.6 L572.3 972.7 L568.8 964.1 L558.5 971.0 L555.1 983.0 L553.4 991.6 L547.4 998.5 L544.8 1007.0 L541.4 1017.3 L534.5 1022.5 L527.6 1020.8 L520.8 1025.9 L517.3 1031.1 L507.0 1037.9 L489.9 1044.8 L477.9 1050.0 L472.7 1056.8 L467.6 1065.4 L459.0 1072.3 L448.7 1077.4 L438.4 1080.9 L431.5 1079.1 L434.9 1072.3 L436.7 1067.1 L436.7 1051.7 L437.5 1034.5 L439.2 1017.3 L441.8 1003.6 L450.4 998.5 L452.1 991.6 L447.0 988.2 L438.4 984.7 L431.5 981.3 L424.6 979.6 L421.2 974.4 L414.3 967.6 L405.8 964.1 L397.2 960.7 L386.9 958.1 L381.2 953.1 L377.2 959.2 L369.1 962.2 L361.0 955.1 L363.0 949.0 L370.1 945.0 L371.1 936.9 L367.0 926.7 L361.0 922.6 L354.8 928.7 L349.8 936.9 L337.6 937.9 L334.6 922.6 L335.6 903.4 L329.5 896.3 L328.5 888.1 L325.4 885.1 L323.4 888.1 L316.3 873.9 L312.2 865.8 L304.1 857.7 L301.1 863.8 L292.0 857.7 L285.9 851.6 L283.8 846.5 L281.8 849.6 L271.6 839.4 L261.5 833.4 L252.4 828.3 L235.1 832.3 L214.8 829.3 L206.7 832.3 L201.6 829.3 L200.6 825.2 L203.7 811.0 L204.7 796.8 L206.7 782.6 L196.6 779.6 L186.4 776.5 L184.4 774.5 L181.3 776.9 L164.1 778.6 L156.0 781.6 L149.9 788.7 L148.9 793.8 L154.0 800.9 L155.0 807.0 L150.9 817.1 L147.9 827.3 L148.9 841.5 L149.9 851.6 L147.9 861.8 L141.8 871.9 L137.7 884.1 L129.6 896.3 L125.5 906.4 L121.5 922.6 L119.4 938.9 L111.3 949.0 L105.2 959.2 L103.2 967.3 L99.1 975.4 L99.1 990.0 L99.1 1010.3 L105.2 1028.6 L104.2 1038.7 L113.4 1042.8 L133.6 1036.3 L139.7 1038.7 L143.8 1050.9 L146.8 1071.2 L149.9 1081.3 L157.0 1090.5 L159.0 1086.4 L164.1 1093.5 L168.1 1109.7 L172.2 1128.0 L176.3 1146.3 L182.4 1164.5 L184.4 1168.6 L196.6 1178.7 L210.8 1186.9 L227.0 1183.8 L239.2 1186.9 L249.3 1199.0 L257.4 1211.2 L273.7 1225.4 L287.9 1229.5 L300.1 1247.7 L312.2 1257.9 L326.4 1270.0 L336.6 1280.2 L343.8 1292.3 L352.9 1310.5 L355.2 1321.8 L356.3 1340.0 L354.0 1358.2 L350.6 1374.2 L350.6 1385.5 L354.0 1394.6 L354.0 1415.1 L355.2 1431.0 L366.5 1442.4 L377.9 1449.2 L387.0 1467.4 L393.8 1481.1 L400.7 1499.3 L405.2 1518.6 L402.9 1524.3 L396.1 1524.3 L393.8 1519.8 L391.5 1515.2 L387.0 1510.7 L385.9 1517.5 L375.6 1519.8 L366.5 1522.0 L357.4 1527.7 L352.9 1522.0 L348.3 1512.9 L339.2 1508.4 L323.3 1500.4 L311.9 1495.9 L302.8 1485.6 L293.7 1480.0 L275.5 1469.7 L261.9 1458.3 L255.1 1451.5 L239.1 1444.7 L226.6 1432.2 L228.9 1424.2 L227.8 1410.6 L218.7 1399.2 L211.8 1387.8 L202.7 1378.7 L192.5 1366.2 L194.8 1360.5 L186.8 1342.3 L186.8 1324.1 L180.0 1303.6 L174.2 1288.3 L170.2 1266.0 L171.2 1253.8 L168.1 1233.5 L160.0 1219.3 L153.9 1207.2 L141.8 1193.0 L132.6 1184.8 L131.6 1170.6 L123.5 1166.6 L124.5 1158.4 L111.3 1156.4 L109.3 1148.3 L101.2 1135.1 L89.0 1130.0 L80.0 1128.0ZM80.0 1382.0 L89.0 1385.5 L102.6 1392.4 L118.6 1403.7 L134.5 1414.0 L143.6 1424.2 L150.4 1435.6 L159.5 1447.0 L168.6 1458.3 L177.7 1472.0 L186.8 1478.8 L193.6 1481.1 L202.7 1490.2 L198.2 1478.8 L200.5 1469.7 L207.3 1468.6 L216.4 1472.0 L225.5 1481.1 L230.0 1490.2 L234.6 1501.6 L243.7 1506.1 L252.8 1508.4 L266.4 1517.5 L275.5 1526.6 L281.2 1540.2 L286.9 1549.3 L298.3 1560.7 L312.0 1565.3 L323.3 1568.7 L330.1 1574.4 L331.3 1582.3 L321.0 1588.0 L302.8 1596.0 L316.5 1592.6 L334.7 1583.5 L348.3 1577.8 L357.4 1581.2 L366.5 1590.3 L375.6 1608.5 L377.0 1620.0 L135.0 1620.0 L130.0 1608.5 L111.7 1594.8 L98.1 1583.5 L89.0 1558.4 L80.0 1540.0ZM701.8 1620.0 L701.8 1610.0 L693.2 1597.3 L683.4 1587.5 L680.9 1560.5 L683.4 1538.5 L688.3 1533.6 L690.7 1518.8 L700.6 1506.6 L709.1 1491.9 L723.9 1485.0 L730.0 1495.5 L747.1 1504.1 L766.8 1504.1 L788.8 1515.2 L801.1 1516.4 L810.9 1522.5 L819.5 1524.2 L808.5 1516.4 L809.7 1506.6 L815.8 1499.2 L818.3 1487.0 L822.0 1477.1 L818.3 1469.8 L820.7 1460.0 L830.5 1463.7 L833.0 1447.7 L842.8 1435.5 L864.9 1430.6 L894.3 1423.2 L926.2 1413.4 L936.0 1401.1 L953.2 1379.0 L960.0 1372.1 L973.8 1355.6 L984.8 1337.6 L986.2 1328.0 L998.6 1326.6 L1015.2 1319.7 L1031.7 1308.7 L1045.5 1301.2 L1048.3 1307.3 L1067.6 1304.5 L1078.7 1290.7 L1070.4 1276.9 L1081.4 1265.9 L1095.2 1267.3 L1103.5 1254.9 L1111.8 1232.8 L1125.6 1216.2 L1139.4 1199.7 L1150.4 1180.4 L1153.2 1199.7 L1164.2 1194.2 L1172.5 1181.7 L1179.4 1183.1 L1180.8 1196.9 L1194.6 1205.2 L1204.2 1213.5 L1205.6 1224.5 L1202.8 1232.8 L1202.8 1243.8 L1194.6 1247.1 L1224.9 1238.3 L1230.4 1249.3 L1222.2 1254.9 L1224.9 1257.6 L1238.7 1252.1 L1252.5 1254.9 L1260.8 1263.1 L1277.3 1271.4 L1291.1 1275.6 L1299.4 1279.7 L1299.4 1290.7 L1288.4 1297.6 L1263.5 1304.5 L1247.0 1300.4 L1235.9 1312.8 L1247.0 1323.8 L1258.0 1332.1 L1256.6 1340.4 L1224.9 1348.7 L1208.4 1343.2 L1200.1 1354.2 L1208.4 1368.0 L1211.1 1381.8 L1200.1 1384.6 L1194.6 1379.0 L1191.8 1387.3 L1175.2 1385.9 L1169.7 1387.3 L1180.8 1392.8 L1186.3 1401.1 L1184.9 1409.4 L1197.3 1417.7 L1201.5 1428.7 L1208.4 1438.4 L1216.6 1450.8 L1224.9 1464.6 L1227.7 1471.5 L1219.4 1478.4 L1212.5 1485.3 L1220.8 1497.7 L1233.2 1508.7 L1252.5 1525.3 L1266.3 1536.3 L1282.9 1547.4 L1274.6 1555.6 L1258.0 1558.4 L1238.7 1555.6 L1224.9 1547.4 L1219.4 1541.8 L1220.8 1555.6 L1211.1 1563.9 L1202.8 1580.5 L1195.9 1597.0 L1194.6 1610.0 L1194.0 1620.0ZM1332.5 1620.0 L1332.5 1610.0 L1338.0 1580.5 L1346.3 1563.9 L1360.1 1548.7 L1368.4 1558.4 L1379.4 1555.6 L1390.5 1536.3 L1404.0 1529.4 L1414.0 1529.0 L1414.0 1582.0 L1404.0 1581.9 L1382.2 1577.7 L1360.1 1586.0 L1346.3 1610.0 L1345.0 1620.0ZM1403.0 60.0 L1403.0 70.4 L1398.1 81.2 L1393.2 88.1 L1386.4 95.0 L1381.5 102.8 L1374.6 114.6 L1367.7 125.4 L1362.8 133.2 L1356.9 141.1 L1352.3 150.3 L1350.7 169.6 L1347.5 184.0 L1352.3 198.5 L1361.9 217.8 L1378.0 230.6 L1384.3 240.0 L1387.2 251.5 L1392.9 258.7 L1395.1 260.2 L1396.5 248.6 L1397.3 240.0 L1404.0 211.4 L1414.0 200.0 L1414.0 60.0ZM1414.0 460.0 L1404.0 463.2 L1393.6 464.7 L1380.7 469.1 L1376.4 486.3 L1370.6 509.4 L1364.9 523.7 L1369.2 535.3 L1367.7 561.2 L1363.4 578.4 L1363.4 595.7 L1366.3 612.9 L1362.0 620.1 L1353.4 620.1 L1341.8 610.1 L1333.2 604.3 L1328.9 612.9 L1330.3 624.5 L1337.5 636.0 L1341.8 659.0 L1346.2 679.1 L1350.5 696.4 L1359.1 699.3 L1364.9 710.8 L1369.2 719.4 L1376.4 718.0 L1377.8 693.5 L1387.8 699.3 L1399.4 707.9 L1400.8 716.5 L1390.8 728.1 L1382.1 736.7 L1379.2 746.8 L1381.4 760.2 L1388.1 755.7 L1397.1 760.2 L1404.0 762.4 L1414.0 762.0ZM1414.0 775.0 L1404.0 775.5 L1387.9 777.0 L1367.7 778.4 L1364.9 784.2 L1376.4 787.0 L1386.4 800.0 L1390.8 814.4 L1396.5 831.7 L1399.4 843.2 L1404.0 846.0 L1414.0 846.0ZM665.4 422.1 L673.1 414.3 L686.0 406.6 L698.9 393.7 L701.5 386.0 L711.8 383.4 L724.6 379.6 L740.1 379.6 L753.0 377.0 L763.3 374.4 L771.0 375.7 L778.7 371.8 L786.4 369.3 L794.2 373.1 L801.9 380.9 L807.0 398.9 L796.7 404.0 L789.0 416.9 L781.3 432.4 L776.1 447.8 L772.2 457.3 L761.9 461.2 L749.0 474.1 L733.6 477.9 L728.4 485.7 L718.1 488.2 L707.8 483.1 L684.6 475.4 L669.2 467.6 L665.3 445.8 L666.6 430.0ZM1177.5 1095.1 L1183.7 1076.7 L1191.8 1066.5 L1206.1 1054.2 L1218.3 1042.0 L1224.5 1040.0 L1242.8 1021.6 L1265.3 995.1 L1285.7 970.6 L1295.9 965.5 L1302.0 956.3 L1300.0 942.0 L1304.0 931.8 L1314.2 910.4 L1317.3 915.5 L1316.3 929.8 L1320.4 946.1 L1325.5 962.4 L1320.4 969.6 L1310.2 972.6 L1302.0 978.7 L1296.9 988.9 L1283.6 992.0 L1271.4 998.1 L1270.4 1007.3 L1261.2 1027.7 L1251.0 1040.0 L1242.8 1043.0 L1232.6 1050.2 L1224.5 1063.4 L1214.3 1070.6 L1200.0 1077.7 L1195.9 1083.8 L1187.7 1087.9ZM381.7 969.3 L386.9 966.7 L392.0 969.3 L393.7 976.1 L390.3 986.4 L388.6 998.5 L386.9 989.9 L381.7 976.1ZM148.0 1006.0 L153.0 1007.0 L154.0 1013.0 L150.0 1013.0ZM145.0 1021.0 L154.0 1019.0 L154.0 1027.0 L149.0 1030.0 L145.0 1027.0ZM160.0 1273.0 L170.0 1272.0 L169.0 1282.0 L162.0 1286.0ZM234.6 1483.4 L248.2 1478.8 L255.1 1487.9 L252.8 1499.3 L243.7 1503.8 L234.6 1497.0ZM271.0 1510.7 L296.0 1516.3 L298.3 1527.7 L289.2 1522.0 L273.3 1517.5ZM284.6 1524.3 L291.0 1530.0 L296.0 1540.2 L291.5 1549.3 L285.6 1540.2ZM298.3 1540.2 L327.8 1553.9 L330.1 1565.3 L307.4 1563.0 L297.1 1556.1ZM313.1 1538.0 L327.8 1542.5 L339.2 1556.1 L330.1 1557.3 L311.9 1545.9ZM337.0 1567.0 L344.0 1572.0 L346.0 1578.0 L338.0 1578.0ZM348.0 1556.0 L355.0 1558.0 L358.0 1567.0 L352.0 1568.0ZM348.0 1541.0 L353.0 1541.0 L355.0 1548.0 L351.0 1549.0ZM368.8 1526.6 L375.6 1519.8 L384.7 1522.0 L387.0 1526.6 L377.9 1532.3ZM384.0 1542.0 L393.0 1537.0 L398.0 1541.0 L395.0 1550.0 L388.0 1548.0ZM394.0 1556.0 L399.0 1555.0 L403.0 1563.0 L398.0 1564.0ZM402.9 1542.5 L423.4 1535.7 L428.0 1540.2 L425.7 1556.1 L416.6 1553.9 L405.2 1547.0ZM417.0 1595.0 L421.0 1596.0 L430.0 1608.0 L424.0 1607.0ZM373.0 1557.0 L376.0 1558.0 L377.0 1563.0 L374.0 1562.0ZM284.7 861.7 L287.7 862.2 L295.0 872.5 L286.2 871.5ZM299.4 893.6 L304.3 889.2 L305.3 892.6 L304.3 897.5ZM327.5 908.5 L330.0 908.0 L331.0 913.0 L329.0 915.5 L327.0 913.0ZM342.0 946.0 L346.0 946.5 L348.0 950.0 L345.0 952.5ZM128.2 1196.8 L132.1 1204.6 L129.2 1208.6 L125.7 1203.7ZM128.2 1214.4 L140.0 1211.5 L144.9 1217.4 L141.9 1222.3 L134.1 1225.2 L130.1 1219.4ZM90.9 1122.2 L93.8 1125.1 L92.9 1133.0 L90.9 1132.0ZM90.9 1138.9 L94.8 1140.8 L96.8 1149.7 L93.8 1147.7 L90.9 1143.8ZM973.5 239.5 L978.0 236.5 L985.0 235.5 L985.5 238.5 L980.0 240.5 L975.0 241.5ZM993.2 235.0 L1001.1 236.0 L999.0 243.0 L996.0 241.0ZM563.3 325.2 L573.1 328.2 L574.3 329.5 L571.9 334.4 L567.0 333.1 L563.3 328.9ZM627.6 1364.4 L641.3 1350.7 L643.3 1354.6 L651.1 1364.4 L651.1 1374.2 L645.2 1384.0 L637.4 1386.0 L633.3 1382.1 L642.3 1376.2 L635.4 1374.2 L628.6 1370.3ZM489.3 1420.3 L499.0 1428.7 L492.3 1435.1ZM520.0 1410.0 L524.0 1411.0 L526.0 1419.0 L521.0 1418.0ZM674.0 1433.0 L679.0 1424.0 L682.0 1428.0 L677.0 1435.0ZM674.0 1434.0 L678.0 1425.0 L681.0 1427.0 L677.0 1434.0ZM400.0 1433.0 L404.0 1436.0 L402.0 1443.0 L399.0 1440.0ZM542.0 1070.0 L547.0 1069.0 L548.0 1074.0 L543.0 1075.0ZM762.7 313.8 L777.1 311.4 L778.7 317.0 L767.5 316.2ZM1228.0 98.0 L1233.0 97.0 L1235.5 101.5 L1233.0 105.0 L1229.0 104.5ZM1241.0 102.5 L1249.0 98.8 L1252.0 105.6 L1244.0 105.0ZM823.9 1440.4 L828.1 1439.9 L830.5 1462.4 L826.9 1463.7ZM1168.3 1158.3 L1180.8 1156.9 L1182.1 1163.8 L1175.2 1169.3 L1169.7 1172.1ZM1334.1 1293.5 L1346.3 1286.6 L1354.6 1281.1 L1358.8 1286.6 L1351.8 1292.1 L1340.8 1297.6 L1334.1 1297.6ZM1201.0 1346.0 L1208.0 1343.0 L1212.0 1350.0 L1206.0 1354.0 L1201.0 1352.0ZM1198.0 1399.0 L1203.0 1399.0 L1205.0 1407.0 L1201.0 1406.0ZM1399.0 1236.0 L1404.0 1232.0 L1414.0 1230.0 L1414.0 1243.0 L1403.0 1247.0 L1399.0 1243.0ZM1336.7 852.2 L1344.9 854.3 L1353.0 859.4 L1358.1 858.4 L1364.2 865.5 L1362.2 870.6 L1351.0 870.6 L1340.8 864.5 L1335.7 858.4ZM1336.7 873.7 L1344.9 872.6 L1348.5 882.8 L1342.8 891.0 L1338.7 886.9ZM1327.5 904.3 L1336.7 900.2 L1336.7 906.3 L1332.6 909.4ZM1330.6 958.3 L1336.7 954.3 L1344.9 959.4 L1338.7 964.5 L1330.6 965.5ZM1180.0 1098.0 L1185.0 1097.0 L1186.0 1104.0 L1181.0 1105.0ZM1158.5 1112.0 L1169.5 1111.5 L1170.4 1122.0 L1166.0 1129.7 L1160.0 1122.0ZM1167.3 1162.0 L1180.0 1157.0 L1181.6 1166.0 L1170.0 1172.6ZM1349.0 756.0 L1355.0 758.0 L1360.5 766.9 L1354.0 764.0Z" fill="#d3d3d3" fill-rule="nonzero"/>
<path d="M149.4 70.0V1609.8M268.9 70.0V1609.8M388.5 70.0V1609.8M508.0 70.0V1609.8M627.5 70.0V1609.8M747.1 70.0V1609.8M866.6 70.0V1609.8M986.2 70.0V1609.8M1105.7 70.0V1609.8M1225.2 70.0V1609.8M1344.8 70.0V1609.8M89.8 1487.4H1403.9M89.8 1364.2H1403.9M89.8 1241.0H1403.9M89.8 1117.8H1403.9M89.8 994.6H1403.9M89.8 871.5H1403.9M89.8 748.3H1403.9M89.8 625.1H1403.9M89.8 501.9H1403.9M89.8 378.8H1403.9M89.8 255.6H1403.9M89.8 132.4H1403.9" stroke="#808080" stroke-opacity="0.6" stroke-width="1.1" stroke-dasharray="4.9,2.45" fill="none"/>
<path d="M273.7 229.0 L275.7 227.6 L277.6 226.1 L280.1 225.7 L281.8 223.7 L284.2 223.1 L286.2 221.7 L288.4 220.7 L289.1 218.3 L291.0 216.8 L291.7 214.4 L293.6 212.8 L294.4 210.5 L295.7 208.5 L297.6 206.9 L299.9 207.7 L302.0 209.2 L304.7 209.1 L306.8 210.6 L309.3 211.4 L311.3 213.1 L313.4 214.7 L316.0 215.2 L317.4 217.0 L319.2 218.5 L320.0 220.8 L322.7 221.4 L323.2 224.0 L325.2 225.3 L327.6 224.7 L330.0 224.1 L332.5 224.4 L333.5 222.2 L335.2 220.5 L337.3 219.2 L338.0 216.7 L339.9 215.2 L341.5 213.6 L343.1 212.0 L344.3 210.0 L346.1 208.5 L347.0 206.3 L349.1 205.1 L351.4 206.2 L353.1 207.9 L354.4 210.1 L356.4 211.5 L358.3 212.6 L360.3 213.7 L362.0 215.2 L363.3 213.0 L364.2 210.6 L365.2 208.2 L366.6 206.0 L368.5 207.9 L370.7 209.3 L373.0 210.6 L375.7 211.8 L377.9 213.8 L380.4 215.2 L381.8 216.9 L382.9 218.9 L384.5 220.4 L386.5 221.6 L387.7 223.5 L389.0 221.4 L388.2 218.9 L389.2 216.7 L390.2 214.6 L389.8 212.2 L390.9 210.0 L391.4 207.8 L393.3 206.2 L395.9 206.2 L398.2 205.4 L400.2 204.2 L402.4 203.2 L403.8 205.3 L406.3 206.3 L407.7 208.4 L409.7 210.0 L411.6 211.5 L413.5 210.2 L415.3 208.7 L417.5 207.8 L419.4 206.5 L420.8 204.6 L422.7 203.2 L425.0 202.4 L426.7 200.4 L429.2 200.3 L431.3 199.1 L433.7 198.6 L435.5 196.8 L436.7 194.7 L436.7 192.3 L437.5 190.1 L438.7 188.0 L439.2 185.7 L441.0 184.0 L443.4 183.6 L445.3 182.1 L447.3 181.0 L449.4 179.9 L452.0 179.8 L453.9 178.4 L455.4 176.5 L457.3 175.2 L459.3 173.9 L461.6 173.1 L462.7 170.7 L464.9 169.7 L466.8 168.3 L468.4 170.1 L469.6 172.2 L471.3 173.9 L472.9 175.6 L475.2 176.7 L476.7 178.6 L478.4 180.3 L479.4 182.6 L481.5 183.9 L483.3 185.5 L485.9 185.2 L488.0 186.2 L490.1 187.2 L492.2 188.1 L494.1 189.4 L496.2 190.3 L498.3 191.1 L500.6 191.2 L502.9 191.4 L504.8 192.6 L507.0 193.2 L509.1 194.0 L511.3 194.3 L513.4 195.1 L515.7 194.8 L517.9 194.7 L520.1 194.9 L521.2 196.9 L522.3 198.8 L523.8 200.5 L526.0 199.3 L528.7 200.1 L531.0 199.4 L533.4 199.0 L535.8 198.3 L538.0 197.2 L540.4 196.8 L542.5 197.7 L544.8 198.3 L546.5 200.1 L549.0 200.3 L551.0 201.4 L553.0 202.6 L555.1 203.6 L556.9 205.1 L555.3 207.3 L553.8 209.7 L552.0 211.8 L549.6 213.3 L548.7 215.9 L547.3 218.2 L545.6 220.3 L544.0 222.5 L543.8 225.1 L541.6 226.9 L541.1 229.3 L540.4 231.7 L542.6 232.6 L544.3 234.1 L546.0 235.6 L547.7 237.2 L548.2 239.6 L548.9 242.1 L548.1 244.7 L548.2 247.2 L549.3 249.5 L549.6 252.0 L551.8 253.1 L554.3 253.6 L556.5 254.7 L558.5 256.2 L560.6 257.5 L563.1 258.6 L565.0 260.7 L567.9 261.2 L570.0 263.0 L572.3 263.3 L573.7 265.6 L576.0 266.0 L578.3 266.5 L580.0 268.0 L582.4 268.5 L584.9 268.1 L587.2 269.2 L589.5 270.4 L592.0 270.0 L594.0 271.1 L596.3 271.3 L598.6 271.1 L600.7 271.8 L603.0 272.0 L605.0 273.0 L607.0 274.5 L609.3 275.4 L611.3 276.9 L613.8 277.4 L616.0 278.4 L618.0 280.0 L620.3 280.8 L622.6 281.4 L624.9 281.6 L627.3 281.8 L629.6 282.2 L632.0 282.0 L634.3 281.9 L636.2 280.6 L638.5 280.5 L640.6 279.8 L642.7 278.8 L645.0 279.0 L646.2 276.7 L648.3 275.3 L650.0 273.5 L652.0 272.0M277.4 229.9 L279.1 231.4 L280.7 232.9 L282.9 233.5 L284.3 235.3 L286.1 236.6 L288.4 237.2 L289.1 239.5 L291.2 240.8 L292.7 242.5 L294.0 244.3 L295.4 246.1 L296.7 248.0 L297.6 250.1 L298.6 252.3 L299.5 254.7 L300.8 256.8 L302.5 258.7 L303.5 261.0 L304.9 263.0 L305.2 265.4 L307.0 267.2 L306.9 269.7 L307.2 272.0 L308.6 274.0 L311.1 273.0 L313.4 271.6 L315.5 269.8 L317.8 268.5 L320.3 268.9 L322.2 270.8 L324.8 271.0 L327.0 272.2 L326.2 274.7 L325.5 277.3 L326.1 280.0 L325.7 282.5 L325.2 285.1 L323.7 286.9 L323.3 289.2 L323.3 291.6 L322.6 293.7 L321.8 295.8 L319.9 297.5 L319.7 299.8 L321.2 302.0 L323.8 303.0 L324.8 305.6 L327.0 307.1 L327.4 309.6 L328.9 311.4 L330.4 313.3 L331.2 315.6 L332.8 317.4 L334.0 319.4 L334.4 321.9 L336.6 323.1 L339.0 323.0 L341.3 323.3 L343.6 323.7 L345.5 325.7 L348.3 326.4 L350.2 328.3 L352.8 329.2 L354.9 330.6 L357.6 330.6 L359.8 331.6 L362.0 332.9 L364.4 333.5 L366.8 334.4 L368.8 335.8 L371.2 336.6 L372.1 334.3 L373.5 332.2 L374.3 329.9 L376.6 328.3 L377.1 325.7 L378.5 323.7 L380.8 322.7 L383.1 322.0 L385.6 321.5 L387.7 320.0 L390.0 319.4 L392.4 319.8 L394.6 318.7 L396.9 318.2 L399.2 319.6 L401.5 321.0 L404.2 321.7 L406.1 323.7 L408.0 324.8 L410.0 325.7 L412.0 326.7 L413.2 329.0 L415.6 329.3 L417.1 331.0 L419.4 331.9 L421.6 333.2 L424.0 333.9 L426.3 334.7 L428.7 335.4 L430.9 336.6 L433.2 337.6 L435.5 338.4 L437.0 340.6 L439.6 341.6 L441.0 343.9 L442.8 345.2 L445.0 346.0 L446.6 347.6 L445.3 349.5 L443.2 350.7 L442.0 352.6 L440.4 354.3 L439.0 356.0 L436.7 357.7 L434.5 359.5 L433.0 362.0 L430.2 361.4 L427.4 360.5 L424.6 360.0 L426.6 361.3 L428.6 362.5 L430.5 364.0 L432.8 364.9 L434.7 366.3 L436.8 367.5 L438.4 369.4 L440.7 370.3 L442.6 371.8 L444.9 372.5 L443.4 375.4 L443.3 378.7 L442.0 380.8 L440.1 382.4 L438.1 383.9 L436.6 385.9 L435.5 388.1 L434.6 390.2 L433.3 392.0 L431.5 393.5 L430.7 395.6 L429.1 397.2 L428.0 399.1 L426.1 400.5 L423.7 399.6 L421.3 398.8 L418.8 398.0 L416.0 398.6 L413.7 397.4 L411.2 396.9 L408.7 396.8 L406.2 397.5 L403.7 396.1 L401.2 396.6 L398.8 396.7 L397.0 398.6 L394.4 398.3 L392.5 399.9 L390.3 400.5 L391.4 403.1 L391.6 406.0 L393.4 408.3 L391.9 410.2 L391.8 412.7 L390.3 414.6 L388.2 415.9 L386.0 416.9 L384.0 418.4 L381.7 419.3 L384.0 421.3 L385.6 423.9 L388.0 424.8 L389.9 426.4 L392.6 426.6 L394.5 428.4 L396.8 429.4 L399.3 429.9 L401.2 431.7 L403.3 432.6 L405.0 434.2 L407.0 435.2 L409.4 435.8 L410.5 438.2 L412.7 439.1 L414.5 440.6 L416.8 441.1 L419.0 441.9 L420.6 443.5 L422.6 444.5 L423.7 446.8 L425.9 447.5 L427.9 448.7 L429.3 450.5 L431.8 451.0 L434.1 452.4 L436.6 452.9 L439.3 452.6 L441.7 453.6 L443.9 454.0 L445.5 456.0 L447.7 456.4 L449.6 457.4 L452.0 457.4 L454.1 458.3 L455.8 459.8 L455.1 462.1 L455.1 464.5 L455.3 467.0 L454.2 469.2 L454.3 471.7 L455.5 473.9 L456.1 476.3 L457.3 478.5 L459.6 479.2 L460.7 481.5 L463.3 481.7 L464.5 484.0 L466.7 484.8 L468.6 486.0 L470.6 487.1 L472.3 488.6 L473.8 490.3 L476.1 491.0 L477.7 492.7 L479.1 494.4 L479.8 496.7 L481.4 498.3 L482.3 500.4 L483.7 502.5 L484.4 504.9 L485.3 507.1 L485.4 509.7 L487.1 511.2 L488.3 513.1 L489.7 514.9 L490.4 517.1 L492.4 518.4 L493.5 520.4 L494.8 522.2 L496.7 523.6 L498.1 525.5 L500.0 526.9 L501.3 528.9 L503.1 530.4 L503.8 532.9 L505.6 534.5 L507.2 536.2 L509.4 537.0 L511.0 538.6 L512.6 540.4 L515.2 540.5 L516.5 542.7 L518.7 543.4 L520.6 544.7 L522.2 546.3 L524.4 547.1 L525.9 548.8 L527.1 550.7 L528.2 552.6 L529.2 554.7 L531.3 555.9 L532.0 558.1 L533.8 559.6 L535.7 561.4 L537.8 562.9 L540.0 564.3 L540.2 566.6 L540.2 568.8 L540.7 571.1 L540.6 573.3 L540.7 575.6 L539.6 577.8 L540.4 580.1 L540.5 582.3 L540.0 584.6 L541.9 586.0 L542.2 588.5 L543.6 590.3 L545.2 591.9 L547.0 593.3 L548.4 595.1 L549.4 597.1 L551.6 595.6 L554.0 594.7 L556.1 593.1 L558.7 592.4 L559.8 595.0 L561.1 597.5 L561.8 600.2 L564.1 601.9 L566.7 603.0 L569.6 603.3 L571.3 605.1 L573.3 606.5 L574.2 609.1 L576.7 610.1 L578.2 612.1 L580.4 613.6 L582.8 614.9 L584.4 617.1 L586.3 618.9 L589.0 619.8 L591.7 620.7 L594.4 621.6 L593.4 623.9 L591.7 625.6 L589.5 627.0 L587.8 629.0 L585.4 630.0 L583.4 631.6 L580.9 632.4 L580.1 634.7 L579.8 637.1 L578.2 639.1 L580.2 640.4 L581.2 642.5 L582.3 644.5 L584.0 646.5 L584.8 649.1 L586.3 651.3 L588.4 652.7 L590.4 654.3 L592.6 655.5 L594.8 657.0 L597.1 658.0 L599.1 659.9 L601.7 660.5 L603.9 662.0 L604.8 664.6 L605.2 667.4 L604.0 670.0 L604.9 672.9 L603.9 675.5 L603.1 678.1 L602.7 680.9 L602.5 683.6 L600.1 685.6 L597.1 686.3 L596.6 689.0 L596.5 691.7 L597.1 694.4 L597.8 697.2 L598.5 699.9 L599.8 702.5 L599.0 704.8 L599.7 707.3 L598.8 709.6 L598.5 712.0 L597.5 714.3 L596.0 716.5 L595.0 718.9 L594.4 721.4 L592.9 723.3 L592.1 725.7 L590.6 727.6 L589.8 729.9 L589.0 732.2 L588.3 734.9 L588.6 737.7 L587.7 740.3 L589.4 742.0 L590.2 744.1 L590.9 746.3 L591.7 748.4 L593.3 750.1 L593.3 752.7 L594.7 754.5 L595.8 756.5 L596.3 758.8 L596.9 761.1 L597.5 763.3 L598.5 765.5 L599.9 767.5 L599.8 770.0 L600.4 772.7 L601.5 775.2 L602.9 777.5 L603.9 780.0 L603.0 782.3 L602.0 784.5 L602.1 787.2 L600.2 789.1 L600.1 791.7 L599.6 794.1 L598.5 796.3 L597.3 798.5 L596.6 800.8 L597.0 803.4 L595.8 805.6 L595.1 808.0 L595.5 810.5 L596.4 813.1 L597.4 815.6 L598.2 818.2 L599.0 820.8 L599.1 823.4 L599.4 826.0 L600.1 828.6 L600.7 831.1 L600.2 833.4 L600.8 835.7 L600.4 838.0 L600.0 840.3 L598.9 842.5 L599.0 844.8 L597.5 847.6 L595.5 850.0 L593.3 850.1 L591.2 851.3 L589.0 851.4 L586.7 851.3 L584.5 850.9 L582.3 851.2 L580.1 851.7 L577.8 853.2 L576.0 855.4 L573.6 856.8 L571.5 858.5 L569.5 859.9 L567.4 861.3 L565.7 863.1 L562.9 863.5 L561.2 865.4 L558.8 866.7 L555.8 866.4 L553.3 867.3 L550.9 868.8 L548.6 870.1 L546.0 869.9 L543.4 869.8 L540.9 870.1 L538.6 871.4 L536.2 872.2 L533.7 872.3 L533.9 874.6 L532.4 876.8 L533.3 879.2 L532.4 881.4 L532.9 883.8 L532.0 886.0 L531.4 888.9 L530.2 891.6 L530.3 894.6 L528.0 894.1 L526.4 892.1 L524.1 891.5 L522.3 889.9 L520.0 889.4 L517.9 888.3 L515.4 888.1 L513.5 886.3 L511.0 886.1 L508.8 885.2 L507.2 887.0 L505.2 888.2 L502.8 888.6 L500.8 889.8 L498.9 891.1 L496.7 892.0 L498.9 894.3 L500.2 897.2 L500.4 900.1 L500.5 902.9 L500.2 905.8 L500.5 908.1 L502.6 909.8 L502.4 912.3 L503.6 914.3 L500.8 915.0 L498.8 917.3 L496.0 918.0 L494.4 920.0 L493.7 922.4 L492.4 924.5 L492.2 927.1 L491.1 929.3 L489.9 931.5 L487.6 932.2 L485.1 931.9 L483.0 933.1 L480.8 934.0 L478.4 934.4 L476.1 934.9 L474.2 936.3 L472.3 937.6 L470.2 938.6 L467.6 938.6 L465.8 940.1 L463.3 939.8 L461.2 938.1 L458.5 938.4 L456.1 937.7 L453.8 936.7 L453.2 939.5 L453.2 942.5 L452.1 945.2 L450.5 947.1 L448.2 948.1 L446.5 949.9 L444.9 951.7 L443.4 953.6 L441.8 955.5 L439.1 955.9 L436.7 956.9 L434.6 958.5 L432.1 959.3 L429.8 960.7 L427.5 962.2 L424.5 962.0 L422.1 963.3 L419.5 964.1M288.4 220.7 L289.3 223.0 L290.6 225.1 L292.3 227.0 L293.9 228.9 L293.9 231.8 L295.7 233.6 L297.9 234.3 L299.4 236.0 L301.4 237.0 L303.3 238.2 L304.7 240.0 L306.8 240.9 L308.1 243.0 L310.7 243.7 L312.1 245.7 L314.3 246.8 L315.9 248.6 L317.8 250.1 L320.0 249.9 L322.2 249.6 L324.5 249.6 L326.7 249.6 L328.9 250.1 L331.2 250.4 L333.3 249.4 L335.4 248.6 L337.8 249.3 L339.9 248.3 L342.4 248.4 L344.5 246.8 L346.6 245.6 L349.1 245.5 L351.3 246.8 L353.2 248.3 L354.7 250.2 L356.4 252.0 L358.6 252.6 L360.4 254.0 L362.0 255.6 L364.1 256.8 L365.6 258.6 L367.1 260.5 L369.1 261.8 L371.2 263.0 L373.1 264.7 L375.0 266.6 L376.7 268.5 L378.7 270.2 L380.4 272.2 L382.7 272.5 L385.0 272.6 L387.1 273.5 L389.0 275.2 L391.4 275.0 L393.9 274.6 L396.3 275.3 L398.7 275.7 L401.2 276.2 L403.7 275.3 L406.1 275.9 L406.8 278.4 L407.2 281.0 L407.3 283.6 L407.6 286.1 L407.9 288.7 L409.9 290.3 L412.3 291.1 L414.6 292.0 L417.1 292.4 L419.3 291.6 L421.5 291.7 L423.8 292.7 L426.0 293.0 L428.2 292.4 L430.4 292.9 L432.6 293.7 L435.0 293.3 L437.0 294.5 L439.2 295.2M356.4 211.5 L356.7 214.1 L357.8 216.3 L358.6 218.6 L360.1 220.7 L360.8 223.4 L363.2 225.1 L364.8 227.3 L365.6 229.9 L368.1 230.3 L370.2 231.8 L372.4 232.9 L374.8 233.6 L375.6 235.9 L377.3 237.5 L378.8 239.2 L380.4 240.9 L381.1 243.3 L382.7 245.3 L383.6 247.6 L385.5 249.5 L385.9 252.0 L385.1 254.1 L385.6 256.5 L384.1 258.5 L384.2 260.8 L384.0 263.0 L384.9 265.4 L385.8 267.8 L385.9 270.4M409.8 213.3 L411.1 215.5 L411.4 218.0 L412.3 220.3 L413.5 222.5 L415.1 224.3 L416.2 226.4 L416.6 228.8 L417.6 231.0 L418.9 232.9 L420.2 234.9 L420.8 237.2 L422.9 238.5 L425.6 238.7 L427.6 240.3 L429.7 241.6 L431.9 242.8 L433.8 244.6 L436.2 245.2 L438.2 246.6 L440.7 247.2 L442.9 248.3 L444.4 250.3 L445.5 252.5 L445.5 255.2 L447.0 257.2 L448.4 259.3 L449.8 261.4 L451.3 263.4 L451.7 266.0 L452.5 268.3 L453.9 270.4 L451.5 271.7 L449.2 273.1 L446.6 274.0 L444.5 275.6 L442.4 277.2 L441.0 279.5 L441.1 282.0 L441.1 284.5 L440.4 286.9 L439.9 289.4 L439.2 291.8 L439.2 294.3 L440.0 296.8 L439.4 299.5 L439.9 302.0 L440.6 304.5 L441.0 307.1 L442.4 309.1 L442.2 311.7 L444.1 313.4 L444.3 315.9 L446.1 317.7 L446.6 320.0 L447.5 322.2 L447.1 324.7 L448.3 326.8 L448.4 329.2 L446.6 330.6 L445.9 332.9 L444.7 334.7 L442.4 335.8 L439.9 336.4 L437.4 336.6M463.1 200.5 L465.4 200.8 L467.6 201.7 L469.9 202.6 L472.3 202.3 L474.5 203.3 L476.1 205.1 L478.1 206.4 L479.2 208.8 L481.5 209.7 L482.4 211.8 L482.9 214.0 L483.3 216.2 L483.1 218.5 L483.3 220.7 L481.5 222.5 L480.3 224.7 L479.3 227.0 L477.7 228.9 L476.6 231.1 L476.0 233.6 L476.3 235.8 L476.5 238.0 L475.3 240.2 L475.6 242.4 L476.0 244.6 L477.4 246.6 L477.2 249.1 L478.4 251.1 L479.2 253.3 L479.7 255.6 L479.7 258.1 L479.6 260.6 L479.5 263.1 L478.8 265.5 L478.4 268.0 L477.8 270.4 L477.6 272.8 L479.3 274.8 L478.5 277.4 L479.7 279.5M479.7 213.3 L481.8 212.1 L484.0 211.6 L486.5 211.6 L488.7 210.9 L490.7 209.7 L492.9 210.7 L495.4 211.3 L497.3 213.0 L499.6 213.9 L501.7 215.2 L503.5 217.0 L506.2 217.2 L508.3 218.7 L510.0 220.6 L512.8 220.6 L514.6 222.5 L515.8 224.7 L516.4 227.2 L517.5 229.3 L519.7 231.1 L520.1 233.6 L520.2 236.2 L519.5 238.7 L517.6 240.8 L518.0 243.5 L516.6 245.8 L516.4 248.3 L515.5 250.7 L516.1 253.2 L515.9 255.7 L514.5 258.0 L514.7 260.5 L514.6 263.0 L516.0 265.0 L516.5 267.6 L518.2 269.5 L519.3 271.6 L520.1 274.0 L520.9 276.5 L519.7 278.9 L520.1 281.4M520.1 229.9 L522.3 230.6 L524.5 230.1 L526.8 230.6 L529.0 229.1 L531.2 229.9 L533.4 229.5 L535.6 229.9 L537.8 230.6 L540.0 230.6 L542.2 229.9 L543.6 232.3 L545.0 234.6 L545.9 237.2 L546.3 239.7 L546.5 242.1 L546.1 244.7 L547.6 247.0 L546.9 249.6 L547.7 252.0M542.2 281.4 L544.4 281.8 L546.6 281.9 L548.8 281.8 L551.0 281.6 L553.2 281.4 L555.2 282.4 L557.1 283.6 L558.9 284.9 L560.4 286.6 L562.8 286.9 L564.3 288.7 L565.1 290.8 L564.6 293.2 L565.8 295.3 L566.4 297.5 L566.1 299.8 L564.2 301.8 L561.5 302.5 L559.3 304.2 L556.9 305.3 L554.7 304.5 L552.5 304.7 L550.3 304.5 L548.1 305.7 L545.9 305.3 L543.6 305.6 L541.4 305.2 L539.2 304.2 L537.1 303.5 L534.8 303.5 L534.9 305.9 L535.2 308.4 L534.8 310.8 L532.4 311.6 L529.9 311.9 L527.5 312.7 L523.8 310.8M453.9 274.0 L456.1 275.2 L458.4 276.2 L460.6 277.3 L463.1 277.7 L465.4 279.2 L468.3 279.6 L470.5 281.4 L472.5 283.2 L475.3 283.9 L477.3 285.6 L479.7 286.9 L481.9 287.1 L484.0 288.0 L486.4 287.5 L488.6 287.9 L490.7 288.7 L492.4 290.3 L493.9 292.1 L494.3 294.6 L496.2 296.1 L498.6 297.4 L501.3 298.3 L503.6 299.8M465.0 303.5 L465.6 305.8 L465.1 308.3 L466.3 310.4 L466.8 312.7 L469.3 313.2 L471.2 315.0 L473.6 315.6 L476.0 316.3 L477.3 318.3 L480.0 318.6 L481.5 320.5 L483.3 321.9 L483.6 324.3 L484.3 326.5 L484.9 328.7 L487.0 330.5 L487.0 332.9 L488.2 335.1 L489.4 337.3 L490.2 339.6 L490.7 342.1 L492.0 344.5 L494.3 345.8 L495.8 348.1 L498.1 349.4 L500.1 351.1 L501.3 353.5 L503.6 355.0 L505.5 356.8 L507.5 358.4 L508.8 360.8 L510.9 362.3 L510.6 364.6 L512.3 366.6 L511.9 368.9 L512.2 371.1 L512.8 373.3M505.4 325.5 L506.7 327.6 L507.4 330.0 L508.7 332.2 L509.1 334.7 L510.9 336.8 L512.2 339.1 L513.1 341.7 L514.6 343.9 L516.3 345.9 L518.6 347.2 L520.7 348.9 L522.2 351.1 L523.8 353.1 L525.4 355.2 L527.9 356.4 L529.6 358.4 L531.2 360.5 L533.8 361.3 L535.9 363.4 L538.5 364.2M516.4 316.3 L517.3 318.6 L518.9 320.6 L519.8 323.0 L520.1 325.5 L522.1 327.2 L523.7 329.3 L525.5 331.2 L527.5 332.9 L530.2 333.5 L532.6 334.9 L534.8 336.6 L537.3 336.3 L539.7 335.2 L542.2 334.7M349.1 245.5 L351.2 246.9 L353.0 248.6 L354.1 251.1 L356.6 252.0 L358.2 254.0 L360.1 255.6 L360.8 257.9 L361.2 260.2 L360.9 262.6 L361.2 265.0 L362.6 267.1 L363.3 269.3 L363.0 271.8 L363.8 274.0 L363.5 276.3 L363.0 278.5 L360.8 280.1 L360.8 282.4 L359.4 284.3 L359.2 286.7 L358.3 288.7 L355.6 289.4 L353.4 291.2 L350.9 292.4 L352.2 294.4 L353.1 296.6 L353.0 299.1 L353.6 301.4 L354.6 303.5 L352.9 305.4 L353.0 308.2 L351.1 310.0 L350.4 312.4 L349.1 314.5 L347.7 316.3 L346.8 318.5 L345.3 320.3 L343.6 321.9M446.6 347.6 L449.0 348.9 L451.2 350.7 L453.9 351.3 L456.4 351.8 L458.3 353.5 L460.3 355.0 L462.4 356.4 L465.0 356.8 L467.4 357.5 L469.7 358.5 L471.3 360.7 L473.5 361.9 L476.0 362.3 L477.8 363.7 L480.1 364.5 L481.1 367.0 L483.3 367.8 L485.6 368.4 L487.5 369.9 L489.9 370.2 L492.0 371.3 L494.4 371.5 L496.7 371.6 L498.6 373.2 L501.0 372.9 L503.0 373.8 L505.0 375.1 L507.3 375.2 L510.9 375.2M446.6 373.3 L444.9 374.9 L444.6 377.3 L443.3 379.1 L441.8 380.8 L440.4 382.5 L439.2 384.4 L438.9 386.7 L438.7 389.0 L438.0 391.2 L436.7 393.2 L435.9 395.4 L436.7 397.9 L435.5 400.0M455.8 377.0 L456.4 379.3 L456.8 381.6 L458.7 383.4 L458.2 386.0 L459.4 388.1 L461.1 390.2 L461.5 392.9 L462.7 395.3 L463.7 397.7 L465.0 400.0M443.3 378.7 L445.7 379.2 L448.0 380.1 L450.3 381.2 L452.7 381.7 L454.9 382.9 L457.3 383.4 L457.4 385.9 L457.4 388.4 L458.1 390.9 L457.1 393.4 L457.3 395.9 L458.6 397.7 L460.2 399.3 L460.9 401.6 L462.1 403.4 L463.9 404.9 L465.1 406.8 L467.5 407.3 L469.5 408.6 L471.9 409.0 L474.1 410.0 L476.1 411.5 L478.2 412.7 L480.6 413.5 L482.3 415.3 L484.4 416.7 L486.8 417.4 L488.5 419.3 L491.6 420.3 L494.8 420.8M455.8 462.9 L458.5 462.2 L461.2 463.3 L464.0 463.3 L466.7 462.9 L469.2 463.2 L471.8 462.8 L474.2 463.9 L476.7 464.0 L479.2 464.5 L481.6 465.0 L483.8 463.5 L486.2 464.5 L488.5 463.7 L491.4 462.4 L493.2 459.8M485.4 501.1 L487.9 500.5 L490.3 499.6 L492.3 497.7 L494.8 497.2 L497.2 497.8 L499.4 496.8 L501.8 497.4 L504.1 496.5 L505.6 498.7 L508.4 499.6 L509.6 502.1 L511.9 503.5 L514.3 504.9 L517.3 504.4 L519.7 505.8 L522.0 504.8 L524.5 504.6 L526.6 503.0 L529.1 502.7 L532.1 503.7 L535.3 503.5M588.3 578.3 L587.6 581.0 L585.8 583.3 L585.2 586.1 L583.3 587.4 L581.0 587.7 L578.7 587.8 L577.0 589.7 L574.9 590.4 L572.7 590.8 L570.5 592.2 L568.4 593.8 L566.0 595.0 L565.2 597.2 L563.6 598.8 L561.8 600.2M597.3 748.7 L598.6 746.6 L601.2 745.8 L602.6 743.8 L604.6 742.3 L605.5 739.8 L607.9 738.7 L609.3 736.7 L611.1 735.1 L613.4 734.7 L615.6 733.8 L617.4 732.3 L619.6 731.5 L622.2 731.4 L624.4 730.2 L626.8 729.6 L629.4 729.4 L631.6 728.1 L633.5 726.6 L636.2 727.1 L638.1 725.7 L640.2 724.6 L642.3 723.6 L644.7 723.3 L646.5 721.7 L648.8 721.2 L649.6 718.6 L648.9 716.0 L648.6 713.5 L648.8 710.9 L651.6 711.9 L654.5 711.9 L657.3 712.6 L659.5 711.1 L662.3 710.9 L664.3 708.9 L667.2 709.0 L669.4 707.5 L671.7 706.8 L674.2 707.0 L676.7 707.2 L679.0 706.3 L681.4 705.8 L684.2 706.6 L687.2 706.6 L690.0 707.5M604.1 786.4 L606.4 785.3 L608.8 785.0 L611.2 784.8 L613.7 785.2 L616.1 784.7 L618.3 784.6 L620.5 784.7 L622.7 785.3 L625.0 784.1 L627.2 784.3 L629.4 784.9 L631.6 784.7 L634.1 784.3 L636.5 784.6 L638.8 785.5 L641.3 785.4 L643.6 786.4 L645.2 788.0 L646.8 789.6 L647.8 791.6 L649.2 793.4 L651.1 794.7 L652.2 796.7 L653.0 798.8 L654.3 800.8 L655.8 802.6 L655.7 805.2 L657.3 807.0 L660.2 806.9 L663.1 807.0 L665.9 807.9 L666.7 805.6 L668.7 804.2 L670.3 802.5 L671.1 800.2 L673.1 798.8 L674.4 796.6 L675.9 794.8 L677.9 793.3 L676.3 791.0 L676.4 788.1 L675.4 785.5 L674.5 783.0 L672.6 780.6 L671.1 777.9 L673.0 776.3 L674.5 774.4 L677.1 774.3 L679.6 775.1 L682.2 774.8 L684.8 774.4 L686.9 772.9 L689.7 772.7 L691.7 771.0 L693.6 769.2 L696.3 768.8 L698.5 767.6 L702.0 765.8M600.7 820.8 L603.2 820.8 L605.6 820.6 L608.1 820.4 L610.5 821.7 L613.0 820.6 L615.4 821.6 L617.9 821.6 L618.1 824.2 L620.1 826.2 L620.9 828.6 L621.3 831.1 L621.6 833.7 L622.1 836.3 L622.4 838.9 L623.0 841.4 L622.5 844.3 L623.5 847.1 L623.0 850.0 L625.8 851.4 L628.2 853.4 L630.5 854.9 L632.9 856.3 L634.2 859.1 L636.7 860.3 L639.2 859.5 L641.5 858.3 L643.6 856.8 L645.8 855.4 L648.6 856.0 L650.9 855.1 L653.2 854.0 L655.6 853.4 L658.0 853.6 L660.4 853.0 L662.8 852.4 L665.2 852.1 L667.6 852.5 L667.2 850.3 L666.9 848.1 L667.3 845.8 L668.0 843.6 L667.6 841.4 L670.0 841.1 L672.3 840.8 L674.5 839.7 L676.5 838.2 L677.7 836.0 L679.7 834.6 L681.4 832.8 L683.5 831.4 L685.9 830.6 L687.9 828.9 L690.0 827.6 L692.0 825.6 L694.7 824.4 L696.8 822.5 L699.4 822.5 L701.5 820.7 L704.2 821.0 L706.2 819.0 L708.8 819.1M667.6 852.5 L668.0 855.1 L668.0 857.7 L667.2 860.2 L666.9 862.8 L667.6 865.4 L666.9 867.7 L667.2 870.2 L666.0 872.5 L666.5 875.0 L665.9 877.4 L666.3 880.3 L665.2 883.1 L665.9 886.0 L664.4 888.0 L663.1 890.1 L661.8 892.3 L660.8 894.6 L661.9 897.2 L664.2 898.9 L665.5 901.4 L667.6 903.2 L669.1 905.1 L670.6 907.0 L672.8 908.2 L674.5 910.0M580.1 851.7 L580.0 854.2 L580.5 856.6 L581.1 859.0 L581.5 861.4 L581.1 863.9 L582.2 866.3 L581.8 868.8 L583.1 871.0 L585.7 871.8 L587.5 873.4 L588.7 875.7 L589.9 877.8 L589.2 880.5 L590.4 882.6 L589.3 884.9 L588.3 887.2 L587.1 889.4 L585.2 891.2 L585.9 893.8 L585.2 896.3 L586.7 897.9 L588.5 899.2 L590.2 900.7 L591.8 902.1 L593.8 903.2 L595.3 905.1 L595.4 907.6 L596.6 909.6 L597.3 911.8 L597.5 914.3 L598.2 916.7 L598.7 919.2 L600.7 921.2 L600.7 923.8 L600.1 926.1 L600.0 928.4 L600.0 930.6 L601.3 932.9 L601.2 935.2 L600.7 937.5 L601.3 940.1 L601.4 942.6 L600.1 945.2 L600.7 947.8M533.7 872.3 L533.2 874.6 L533.5 876.9 L533.2 879.1 L533.5 881.4 L534.0 883.7 L533.7 886.0 L534.9 888.7 L535.5 891.6 L535.5 894.6 L534.2 896.6 L534.2 899.1 L533.1 901.2 L532.0 903.2 L532.7 905.4 L533.9 907.5 L533.7 910.0 L536.2 910.8 L538.5 912.0 L540.6 913.5 L543.4 914.4 L546.4 914.4 L549.2 915.2 L551.1 913.6 L553.7 913.1 L555.4 911.1 L557.8 910.1 L559.5 908.3 L561.1 910.2 L563.4 911.2 L564.6 913.5 L565.6 916.0 L566.4 918.6 L566.8 921.4 L568.1 923.8 L567.5 926.0 L566.0 928.0 L565.4 930.2 L564.6 932.4 L562.5 933.9 L559.8 934.1 L557.8 935.8M508.8 885.2 L511.3 884.9 L513.5 886.4 L516.1 885.7 L518.5 885.8 L520.8 886.9 L523.5 887.3 L525.8 889.0 L528.3 890.2 L531.1 890.3 L532.7 892.2 L532.8 894.6 L533.7 896.7 L534.5 898.9 L532.5 900.3 L531.5 902.7 L529.4 904.0 L531.5 904.9 L533.7 905.5 L535.6 907.1 L537.9 907.5 L540.2 906.8 L542.6 907.6 L544.8 906.3 L547.0 905.9 L549.4 906.4 L551.7 905.8 L553.4 904.0 L555.1 902.3 L556.8 904.0 L557.2 906.4 L559.1 908.0 L559.3 910.5 L560.6 912.5 L562.0 914.3 L563.9 916.0 L566.2 917.1 L568.6 918.0 L570.6 919.5 L571.4 917.4 L572.3 915.3 L573.9 913.6 L573.6 911.0 L575.7 909.5 L575.4 906.8 L576.6 904.9 L577.6 902.9 L579.4 901.2 L579.7 898.9 L580.5 896.8 L582.1 895.0 L582.1 892.5 L583.3 890.6 L584.3 888.6M568.8 924.6 L569.6 927.2 L570.2 929.9 L571.0 932.5 L572.3 934.9 L572.9 937.5 L574.2 940.0 L575.1 942.5 L575.7 945.2 L578.2 945.9 L580.1 948.0 L582.6 948.7 L585.3 948.1 L587.9 947.3 L590.2 945.6 L592.9 945.2 L595.2 946.3 L597.2 947.9 L599.7 948.7 L600.0 951.3 L601.2 953.7 L601.1 956.4 L601.5 959.0M529.4 931.5 L530.0 934.1 L532.0 935.9 L533.2 938.1 L534.2 940.5 L534.8 943.1 L536.2 945.2 L537.5 947.8 L540.1 949.5 L541.4 952.1 L544.1 952.4 L546.7 953.4 L549.2 954.4 L551.7 955.5 L554.3 955.5 L556.9 955.0 L559.4 955.2 L562.0 955.5 L564.4 954.2 L567.1 953.8M503.6 914.3 L504.8 916.3 L506.8 917.4 L509.2 918.1 L510.0 920.6 L512.6 921.0 L513.9 922.9 L514.9 925.4 L514.9 928.3 L516.0 930.8 L517.3 933.2 L516.9 936.1 L517.4 938.9 L517.3 941.8 L515.2 942.8 L512.7 942.7 L510.5 943.5 L507.8 942.3 L505.6 940.5 L503.6 938.4 L501.8 936.2 L499.6 934.2 L498.5 931.5 L495.6 931.7 L492.8 931.0 L489.9 931.5M464.1 940.1 L464.7 942.4 L465.8 944.4 L466.5 946.6 L467.6 948.7 L469.1 950.7 L470.9 952.4 L471.7 954.8 L473.4 956.6 L474.4 958.9 L476.1 960.7 L478.0 962.9 L480.8 964.0 L483.0 965.8 L481.8 968.0 L480.4 970.2 L479.6 972.7 L477.1 973.7 L474.6 974.8 L471.8 974.9 L469.3 976.1 L466.7 976.7 L464.5 978.0 L462.4 979.6 L464.3 981.2 L466.2 982.8 L468.4 983.9 L470.5 985.2 L472.7 986.4 L474.1 988.4 L475.7 990.4 L476.7 992.7 L478.8 994.3 L479.6 996.7 L478.8 999.3 L477.4 1001.7 L476.7 1004.3 L476.1 1007.0 L473.8 1008.6 L472.1 1010.8 L469.8 1012.3 L467.6 1013.9 L467.1 1016.2 L466.2 1018.5 L465.8 1020.8 L463.4 1020.6 L461.0 1019.8 L458.7 1019.1 L456.1 1019.9 L453.8 1019.1 L451.5 1019.4 L449.1 1019.8 L447.0 1021.0 L444.7 1021.4 L442.2 1021.2 L440.1 1022.5M483.0 965.8 L485.2 967.0 L486.4 969.3 L488.5 970.6 L489.5 973.0 L491.1 974.9 L493.3 976.1 L495.6 976.7 L498.1 976.7 L500.2 977.9 L502.5 976.8 L504.8 975.6 L507.0 974.4 L509.6 974.7 L512.1 974.4 L514.7 974.6 L517.3 974.4 L519.8 974.6 L522.1 973.8 L524.5 973.2 L527.1 973.7 L529.4 972.7 L531.6 972.2 L533.9 973.0 L536.1 972.5 L538.3 973.1 L540.5 972.1 L542.8 973.5 L545.0 972.5 L547.2 972.0 L549.5 972.3 L551.7 972.7M489.9 983.0 L491.7 984.6 L493.9 985.9 L495.1 988.1 L496.9 989.8 L498.3 991.8 L500.2 993.3 L502.1 994.9 L503.9 996.5 L505.6 998.2 L507.0 1000.2 L509.1 1002.2 L511.2 1004.2 L513.9 1005.3 L515.6 1007.1 L517.3 1008.8M465.8 1017.3 L468.2 1017.5 L470.3 1019.0 L472.7 1019.1 L475.5 1018.3 L478.3 1017.4 L481.3 1017.3 L482.7 1019.2 L482.6 1021.8 L483.4 1023.9 L484.7 1025.9 L486.7 1027.4 L489.0 1028.5 L491.1 1029.9 L493.3 1031.1 L496.0 1031.5 L498.5 1032.8 L497.8 1035.3 L498.5 1037.9M479.6 996.7 L482.4 996.9 L485.2 997.8 L488.0 998.0 L489.6 1000.4 L491.6 1002.4 L494.0 1004.0 L495.5 1006.0 L497.3 1007.8 L498.4 1010.0 L500.0 1012.0 L501.6 1014.5 L501.5 1017.5 L503.0 1020.0 L503.7 1022.5 L503.4 1025.1 L504.9 1027.4 L505.0 1030.0M594.4 621.6 L597.1 621.2 L599.8 620.7 L602.5 620.9 L605.2 621.9 L608.1 622.7 L610.6 624.3 L611.6 621.9 L614.1 620.7 L615.2 618.4 L616.8 616.4 L618.7 614.8 L620.8 613.6 L623.2 613.0 L625.4 612.1 L627.8 612.0 L630.1 612.3 L632.5 612.4 L634.9 612.1M603.9 662.0 L605.7 663.8 L606.6 666.2 L608.3 668.1 L610.9 669.1 L612.0 671.5 L614.2 672.7 L616.5 673.5 L618.9 674.0 L621.4 674.2 L623.5 675.1 L624.7 677.3 L626.8 678.2 L626.6 680.5 L627.6 682.7 L626.8 685.0 L629.4 685.4 L630.9 687.8 L633.5 688.3 L635.4 687.0 L636.6 685.0 L638.2 683.3 L640.3 682.3 L641.1 679.7 L642.6 677.6 L644.3 675.5 L645.2 673.4 L645.0 671.0 L645.7 668.8 L647.9 667.6 L650.6 668.1 L652.9 667.2 L655.1 666.1 L657.3 665.0 L659.9 665.5 L662.1 664.5 L664.5 664.2 L666.7 663.4 L669.1 663.2 L671.3 662.0M463.1 303.5 L463.9 305.9 L465.1 308.0 L467.2 309.7 L467.8 312.2 L469.2 314.2 L470.5 316.3 L473.0 317.1 L475.6 317.0 L478.1 318.0 L480.7 317.9 L483.3 318.2 L485.6 316.6 L488.0 315.4 L490.7 314.5 L490.9 312.1 L492.2 310.1 L492.3 307.7 L493.6 305.7 L494.4 303.5 L495.3 301.3 L497.1 299.8 L498.5 297.9 L499.9 296.1 L501.8 294.9 L503.9 294.1 L505.4 292.4 L507.5 290.5 L510.6 290.4 L512.8 288.7 L515.4 288.6 L517.9 288.8 L520.5 289.0 L523.0 289.2 L525.6 288.7 L528.0 289.9 L530.3 291.4 L532.1 293.5 L534.8 294.3 L535.5 296.9 L534.6 299.4 L534.6 302.0 L535.6 304.5 L534.8 307.1M514.6 312.7 L516.8 312.5 L519.0 312.2 L521.3 312.2 L523.4 310.9 L525.6 310.8 L527.7 312.0 L530.2 311.8 L532.5 312.2 L534.8 312.7 L536.3 314.6 L538.9 314.9 L540.1 317.1 L542.2 318.2 L543.9 320.2 L545.9 321.9M481.5 325.5 L482.1 327.7 L481.6 330.0 L482.8 332.1 L483.0 334.4 L483.3 336.6 L485.1 338.5 L486.7 340.6 L489.2 341.7 L490.7 343.9 L492.0 346.3 L493.3 348.8 L494.4 351.3 L495.1 353.5 L495.4 355.9 L496.9 357.8 L496.9 360.3 L498.1 362.3 L499.4 364.0 L500.5 366.0 L502.1 367.6 L503.0 369.6 L503.6 371.9 L505.4 373.3 L506.6 375.3 L507.8 377.3 L509.7 378.7 L510.9 380.7" fill="none" stroke="#000" stroke-width="1.6" stroke-linejoin="round"/>
<path d="M515.6 979.6 L522.0 986.0 L530.0 992.0 L536.0 998.0 L541.4 1003.6M496.7 993.3 L503.0 1000.0 L509.0 1007.0 L515.0 1014.0 L520.8 1020.8M534.5 972.7 L542.0 976.0 L551.7 983.0" fill="none" stroke="#000" stroke-width="2.6" stroke-linecap="round"/>
<path d="M94.8 186.0 L117.9 188.9 L119.3 196.1 L112.1 206.2 L106.3 226.4 L100.6 243.7 L103.4 248.1 L123.7 249.5 L141.0 252.4 L146.8 258.2 L146.8 269.7 L155.4 284.2 L172.7 287.1 L190.1 284.2 L204.5 274.1 L216.1 269.7 L217.5 281.3 L221.8 301.5 L239.2 303.0 L253.6 305.8 L255.0 298.6 L253.6 281.3 L253.6 264.0 L247.8 255.3 L242.1 246.6 L242.1 235.1 L250.7 226.4 L265.2 229.3 L276.7 229.3M216.1 281.3 L198.7 290.0 L190.1 298.6 L184.3 315.9 L178.5 326.0 L164.1 330.4 L158.3 341.9 L155.4 359.3M155.4 359.3 L146.8 353.5 L138.1 352.0 L117.9 356.4 L116.4 367.9 L109.2 373.7 L89.0 372.3M155.4 359.3 L169.9 356.4 L181.4 367.9 L175.6 388.1 L175.6 399.7 L187.2 408.4 L207.4 402.6 L221.8 406.9 L223.3 431.5 L224.7 445.9 L216.1 466.1 L213.2 477.7 L216.1 497.9 L210.3 515.2 L206.0 529.6 L216.1 532.5 L233.4 518.1 L253.6 500.8 L273.8 489.2 L291.1 497.9 L308.5 512.3 L328.7 500.8 L340.2 483.4 L351.8 474.8 L369.1 477.7 L389.3 483.4 L398.0 497.9 L415.3 518.1 L432.6 535.4 L435.5 560.0 L433.3 586.4 L452.7 617.4 L472.0 625.1 L485.6 644.5 L477.8 667.7 L479.7 694.8 L472.0 718.0 L456.5 729.6 L448.8 729.6M452.7 729.6 L472.0 737.3 L491.4 741.2 L506.8 750.9 L508.1 752.4 L513.5 747.0 L513.5 740.3 L509.4 733.5 L505.4 726.8 L522.9 718.7 L536.4 713.3 L551.3 724.1 L558.0 728.1 L575.5 718.7 L594.4 710.6M448.8 729.6 L437.2 721.8 L398.5 723.8 L363.7 721.8 L336.6 727.6 L321.1 741.2 L309.5 760.5 L290.2 774.1 L288.2 791.5 L294.0 810.8 L305.6 837.9 L313.4 849.5 L311.5 865.0 L321.1 880.5M89.0 745.0 L92.9 752.8 L98.7 772.1 L96.7 810.8 L108.3 834.0 L116.1 853.4 L123.8 876.6 L120.0 896.0 L104.5 923.0 L92.9 938.5 L89.0 942.0M160.0 1198.0 L170.2 1207.2 L184.4 1212.2 L192.5 1210.2 L198.6 1215.3 L204.7 1223.4 L212.8 1225.4 L213.8 1239.6 L210.8 1247.7 L207.7 1253.8 L216.9 1261.9 L227.0 1253.8 L241.2 1246.7 L251.4 1253.8 L263.5 1246.7 L269.6 1237.6 L273.7 1226.4M717.7 1490.6 L730.0 1508.0 L747.1 1533.6 L760.0 1548.0 L774.1 1555.6 L790.0 1551.0 L808.5 1545.8 L837.9 1548.3 L852.6 1547.0 L869.8 1538.5 L879.6 1518.8 L894.3 1514.0 L923.7 1514.0 L926.2 1520.1 L943.4 1526.2 L965.4 1532.3 L975.2 1523.7 L987.5 1520.1 L1000.0 1518.8 L1017.9 1517.0 L1026.2 1503.2 L1034.5 1489.4 L1031.7 1472.9 L1042.8 1464.6 L1053.8 1453.5 L1051.1 1442.5 L1051.1 1431.5 L1059.3 1426.0 L1070.4 1423.2 L1073.1 1406.6 L1078.7 1387.3 L1078.7 1370.8 L1081.4 1359.7 L1089.7 1345.9 L1106.3 1341.8 L1125.6 1340.4 L1153.2 1341.8 L1175.2 1343.2 L1191.8 1351.4 L1197.3 1357.0M993.1 1329.4 L1006.9 1343.2 L1023.5 1362.5 L1031.7 1348.7 L1031.7 1326.6 L1042.8 1310.0M1045.5 1310.0 L1048.3 1329.4 L1053.8 1340.4 L1062.1 1340.4 L1062.1 1326.6 L1056.6 1315.6M273.7 229.0 L288.4 220.7 L297.6 206.9 L306.8 210.6 L316.0 215.2 L325.2 225.3 L332.5 224.4 L339.9 215.2 L349.1 205.1 L356.4 211.5 L362.0 215.2 L366.6 206.0 L373.0 210.6 L380.4 215.2 L387.7 223.5 L391.4 207.8 L402.4 203.2 L411.6 211.5 L422.7 203.2 L435.5 196.8 L439.2 185.7 L453.9 178.4 L466.8 168.3 L481.5 183.9 L496.2 190.3 L509.1 194.0 L520.1 194.9 L523.8 200.5 L540.4 196.8 L556.9 205.1 L549.6 213.3 L544.0 222.5 L540.4 231.7 L547.7 237.2 L549.6 252.0 L560.6 257.5 L570.0 263.0 L580.0 268.0 L592.0 270.0 L605.0 273.0 L618.0 280.0 L632.0 282.0 L645.0 279.0 L652.0 272.0M277.4 229.9 L288.4 237.2 L297.6 250.1 L304.9 263.0 L308.6 274.0 L317.8 268.5 L327.0 272.2 L325.2 285.1 L319.7 299.8 L327.0 307.1 L334.4 321.9 L343.6 323.7 L352.8 329.2 L362.0 332.9 L371.2 336.6 L378.5 323.7 L387.7 320.0 L396.9 318.2 L406.1 323.7 L417.1 331.0 L426.3 334.7 L435.5 338.4 L441.0 343.9 L446.6 347.6 L439.0 356.0 L433.0 362.0 L424.6 360.0 L444.9 372.5 L443.3 378.7 L435.5 388.1 L426.1 400.5 L413.7 397.4 L401.2 396.6 L390.3 400.5 L393.4 408.3 L390.3 414.6 L381.7 419.3 L385.6 423.9 L401.2 431.7 L416.8 441.1 L429.3 450.5 L441.7 453.6 L455.8 459.8 L454.2 469.2 L457.3 478.5 L466.7 484.8 L476.1 491.0 L482.3 500.4 L485.4 509.7 L494.8 522.2 L507.2 536.2 L524.4 547.1 L533.8 559.6 L540.0 564.3 L540.0 584.6 L549.4 597.1 L558.7 592.4 L561.8 600.2 L569.6 603.3 L578.2 612.1 L586.3 618.9 L594.4 621.6 L591.7 625.6 L580.9 632.4 L578.2 639.1 L582.3 644.5 L586.3 651.3 L597.1 658.0 L603.9 662.0 L605.2 667.4 L603.9 675.5 L602.5 683.6 L597.1 686.3 L597.1 694.4 L599.8 702.5 L598.5 712.0 L594.4 721.4 L589.0 732.2 L587.7 740.3 L591.7 748.4 L595.8 756.5 L599.8 770.0 L603.9 780.0 L597.3 798.5 L595.5 810.5 L599.0 820.8 L600.7 831.1 L599.0 844.8 L595.5 850.0 L580.1 851.7 L571.5 858.5 L561.2 865.4 L550.9 868.8 L533.7 872.3 L532.0 886.0 L530.3 894.6 L520.0 889.4 L508.8 885.2 L496.7 892.0 L500.2 897.2 L500.2 905.8 L503.6 914.3 L496.0 918.0 L489.9 931.5 L476.1 934.9" fill="none" stroke="#000" stroke-width="3" stroke-dasharray="3,3.6"/>
<path d="M80.0 60.0 L1284.0 60.0 L1281.6 70.0 L1262.3 81.2 L1263.9 92.5 L1259.0 95.0 L1236.6 94.1 L1227.0 95.7 L1215.7 102.1 L1223.8 107.0 L1227.0 116.6 L1217.3 127.8 L1204.5 139.1 L1193.2 141.3 L1188.4 155.1 L1182.0 150.3 L1170.8 156.7 L1159.5 153.5 L1154.7 166.4 L1146.7 172.2 L1137.0 180.8 L1135.4 193.7 L1119.4 194.7 L1108.1 200.1 L1095.3 204.9 L1080.8 202.4 L1072.8 209.8 L1056.7 204.9 L1040.6 211.4 L1031.0 216.2 L1024.6 208.1 L1019.8 213.0 L1018.9 216.6 L1018.3 222.1 L1014.6 222.1 L1009.7 218.4 L1004.8 218.4 L1001.1 221.5 L1003.0 225.2 L1005.4 228.2 L1004.2 230.7 L1000.5 234.4 L994.4 232.5 L988.2 231.3 L983.3 231.9 L979.7 231.3 L979.0 228.2 L984.0 224.6 L987.6 222.1 L984.0 222.7 L979.0 220.3 L974.8 216.6 L971.1 209.9 L966.8 206.8 L962.5 201.9 L961.3 194.5 L962.5 188.4 L963.1 184.7 L955.8 186.6 L951.5 189.6 L952.1 194.5 L950.2 197.0 L945.3 198.2 L945.9 200.7 L950.8 206.2 L952.1 209.2 L956.4 214.1 L958.8 217.8 L958.8 228.2 L960.7 231.3 L960.0 236.2 L956.4 240.5 L948.4 244.2 L942.3 247.3 L936.2 249.9 L931.4 241.9 L926.6 249.9 L923.4 261.2 L913.7 258.0 L902.5 267.6 L892.9 262.8 L889.5 256.2 L886.9 267.6 L876.6 268.8 L863.7 263.7 L858.5 272.7 L850.8 277.9 L840.5 280.4 L827.6 283.0 L814.8 285.6 L807.0 288.2 L799.3 290.7 L783.9 298.5 L776.1 301.0 L772.3 295.9 L771.0 302.3 L763.3 308.8 L758.1 316.5 L760.7 324.2 L768.4 329.4 L765.8 335.8 L773.6 339.7 L776.1 348.7 L768.4 357.7 L758.1 361.5 L745.2 360.3 L738.8 355.1 L744.0 350.0 L737.5 344.8 L732.4 334.5 L727.2 324.2 L728.5 308.8 L731.1 298.5 L734.9 290.7 L741.4 293.3 L742.7 286.9 L734.9 284.3 L727.2 280.4 L722.1 276.6 L718.2 274.0 L715.6 283.0 L706.6 285.6 L693.7 289.4 L691.2 281.7 L686.0 277.3 L675.7 276.6 L670.6 274.0 L664.1 268.8 L663.4 261.9 L656.4 261.1 L656.4 268.8 L655.1 276.6 L650.0 274.0 L644.8 279.1 L637.1 281.7 L629.4 283.5 L619.7 284.1 L613.6 285.3 L604.0 291.0 L595.2 296.4 L590.9 299.4 L588.5 306.0 L587.8 312.9 L576.8 318.4 L567.6 316.6 L558.4 317.8 L554.7 329.4 L549.5 339.7 L544.4 352.5 L536.7 360.3 L523.8 370.6 L513.5 377.0 L505.8 383.4 L500.6 396.3 L496.7 406.6 L492.9 419.5 L488.9 432.9 L485.1 441.9 L491.5 456.1 L499.2 468.9 L509.5 479.2 L522.4 487.0 L532.7 494.7 L537.9 503.7 L536.6 515.3 L528.8 516.6 L537.9 520.4 L548.2 533.3 L561.0 546.2 L573.9 559.1 L579.1 568.1 L594.5 579.7 L607.4 592.5 L620.3 602.8 L630.6 605.4 L638.3 611.8 L646.0 623.4 L653.7 638.9 L664.0 651.8 L674.3 660.8 L682.1 672.4 L684.8 688.6 L691.7 700.6 L693.4 710.9 L698.5 728.1 L703.7 743.5 L705.4 755.5 L702.0 765.8 L702.0 779.6 L703.7 791.6 L708.8 803.6 L713.1 813.9 L712.3 822.5 L708.8 827.6 L705.4 834.5 L705.4 844.8 L706.3 853.4 L702.0 865.4 L698.5 877.4 L700.3 886.0 L695.1 894.6 L690.0 898.0 L687.4 908.3 L681.4 911.8 L674.5 912.6 L669.4 916.9 L660.8 923.8 L652.2 930.6 L640.2 935.8 L633.3 939.2 L628.2 946.1 L623.0 951.2 L616.1 953.0 L601.5 959.0 L582.6 969.3 L577.4 967.6 L572.3 972.7 L568.8 964.1 L558.5 971.0 L555.1 983.0 L553.4 991.6 L547.4 998.5 L544.8 1007.0 L541.4 1017.3 L534.5 1022.5 L527.6 1020.8 L520.8 1025.9 L517.3 1031.1 L507.0 1037.9 L489.9 1044.8 L477.9 1050.0 L472.7 1056.8 L467.6 1065.4 L459.0 1072.3 L448.7 1077.4 L438.4 1080.9 L431.5 1079.1 L434.9 1072.3 L436.7 1067.1 L436.7 1051.7 L437.5 1034.5 L439.2 1017.3 L441.8 1003.6 L450.4 998.5 L452.1 991.6 L447.0 988.2 L438.4 984.7 L431.5 981.3 L424.6 979.6 L421.2 974.4 L414.3 967.6 L405.8 964.1 L397.2 960.7 L386.9 958.1 L381.2 953.1 L377.2 959.2 L369.1 962.2 L361.0 955.1 L363.0 949.0 L370.1 945.0 L371.1 936.9 L367.0 926.7 L361.0 922.6 L354.8 928.7 L349.8 936.9 L337.6 937.9 L334.6 922.6 L335.6 903.4 L329.5 896.3 L328.5 888.1 L325.4 885.1 L323.4 888.1 L316.3 873.9 L312.2 865.8 L304.1 857.7 L301.1 863.8 L292.0 857.7 L285.9 851.6 L283.8 846.5 L281.8 849.6 L271.6 839.4 L261.5 833.4 L252.4 828.3 L235.1 832.3 L214.8 829.3 L206.7 832.3 L201.6 829.3 L200.6 825.2 L203.7 811.0 L204.7 796.8 L206.7 782.6 L196.6 779.6 L186.4 776.5 L184.4 774.5 L181.3 776.9 L164.1 778.6 L156.0 781.6 L149.9 788.7 L148.9 793.8 L154.0 800.9 L155.0 807.0 L150.9 817.1 L147.9 827.3 L148.9 841.5 L149.9 851.6 L147.9 861.8 L141.8 871.9 L137.7 884.1 L129.6 896.3 L125.5 906.4 L121.5 922.6 L119.4 938.9 L111.3 949.0 L105.2 959.2 L103.2 967.3 L99.1 975.4 L99.1 990.0 L99.1 1010.3 L105.2 1028.6 L104.2 1038.7 L113.4 1042.8 L133.6 1036.3 L139.7 1038.7 L143.8 1050.9 L146.8 1071.2 L149.9 1081.3 L157.0 1090.5 L159.0 1086.4 L164.1 1093.5 L168.1 1109.7 L172.2 1128.0 L176.3 1146.3 L182.4 1164.5 L184.4 1168.6 L196.6 1178.7 L210.8 1186.9 L227.0 1183.8 L239.2 1186.9 L249.3 1199.0 L257.4 1211.2 L273.7 1225.4 L287.9 1229.5 L300.1 1247.7 L312.2 1257.9 L326.4 1270.0 L336.6 1280.2 L343.8 1292.3 L352.9 1310.5 L355.2 1321.8 L356.3 1340.0 L354.0 1358.2 L350.6 1374.2 L350.6 1385.5 L354.0 1394.6 L354.0 1415.1 L355.2 1431.0 L366.5 1442.4 L377.9 1449.2 L387.0 1467.4 L393.8 1481.1 L400.7 1499.3 L405.2 1518.6 L402.9 1524.3 L396.1 1524.3 L393.8 1519.8 L391.5 1515.2 L387.0 1510.7 L385.9 1517.5 L375.6 1519.8 L366.5 1522.0 L357.4 1527.7 L352.9 1522.0 L348.3 1512.9 L339.2 1508.4 L323.3 1500.4 L311.9 1495.9 L302.8 1485.6 L293.7 1480.0 L275.5 1469.7 L261.9 1458.3 L255.1 1451.5 L239.1 1444.7 L226.6 1432.2 L228.9 1424.2 L227.8 1410.6 L218.7 1399.2 L211.8 1387.8 L202.7 1378.7 L192.5 1366.2 L194.8 1360.5 L186.8 1342.3 L186.8 1324.1 L180.0 1303.6 L174.2 1288.3 L170.2 1266.0 L171.2 1253.8 L168.1 1233.5 L160.0 1219.3 L153.9 1207.2 L141.8 1193.0 L132.6 1184.8 L131.6 1170.6 L123.5 1166.6 L124.5 1158.4 L111.3 1156.4 L109.3 1148.3 L101.2 1135.1 L89.0 1130.0 L80.0 1128.0ZM80.0 1382.0 L89.0 1385.5 L102.6 1392.4 L118.6 1403.7 L134.5 1414.0 L143.6 1424.2 L150.4 1435.6 L159.5 1447.0 L168.6 1458.3 L177.7 1472.0 L186.8 1478.8 L193.6 1481.1 L202.7 1490.2 L198.2 1478.8 L200.5 1469.7 L207.3 1468.6 L216.4 1472.0 L225.5 1481.1 L230.0 1490.2 L234.6 1501.6 L243.7 1506.1 L252.8 1508.4 L266.4 1517.5 L275.5 1526.6 L281.2 1540.2 L286.9 1549.3 L298.3 1560.7 L312.0 1565.3 L323.3 1568.7 L330.1 1574.4 L331.3 1582.3 L321.0 1588.0 L302.8 1596.0 L316.5 1592.6 L334.7 1583.5 L348.3 1577.8 L357.4 1581.2 L366.5 1590.3 L375.6 1608.5 L377.0 1620.0 L135.0 1620.0 L130.0 1608.5 L111.7 1594.8 L98.1 1583.5 L89.0 1558.4 L80.0 1540.0ZM701.8 1620.0 L701.8 1610.0 L693.2 1597.3 L683.4 1587.5 L680.9 1560.5 L683.4 1538.5 L688.3 1533.6 L690.7 1518.8 L700.6 1506.6 L709.1 1491.9 L723.9 1485.0 L730.0 1495.5 L747.1 1504.1 L766.8 1504.1 L788.8 1515.2 L801.1 1516.4 L810.9 1522.5 L819.5 1524.2 L808.5 1516.4 L809.7 1506.6 L815.8 1499.2 L818.3 1487.0 L822.0 1477.1 L818.3 1469.8 L820.7 1460.0 L830.5 1463.7 L833.0 1447.7 L842.8 1435.5 L864.9 1430.6 L894.3 1423.2 L926.2 1413.4 L936.0 1401.1 L953.2 1379.0 L960.0 1372.1 L973.8 1355.6 L984.8 1337.6 L986.2 1328.0 L998.6 1326.6 L1015.2 1319.7 L1031.7 1308.7 L1045.5 1301.2 L1048.3 1307.3 L1067.6 1304.5 L1078.7 1290.7 L1070.4 1276.9 L1081.4 1265.9 L1095.2 1267.3 L1103.5 1254.9 L1111.8 1232.8 L1125.6 1216.2 L1139.4 1199.7 L1150.4 1180.4 L1153.2 1199.7 L1164.2 1194.2 L1172.5 1181.7 L1179.4 1183.1 L1180.8 1196.9 L1194.6 1205.2 L1204.2 1213.5 L1205.6 1224.5 L1202.8 1232.8 L1202.8 1243.8 L1194.6 1247.1 L1224.9 1238.3 L1230.4 1249.3 L1222.2 1254.9 L1224.9 1257.6 L1238.7 1252.1 L1252.5 1254.9 L1260.8 1263.1 L1277.3 1271.4 L1291.1 1275.6 L1299.4 1279.7 L1299.4 1290.7 L1288.4 1297.6 L1263.5 1304.5 L1247.0 1300.4 L1235.9 1312.8 L1247.0 1323.8 L1258.0 1332.1 L1256.6 1340.4 L1224.9 1348.7 L1208.4 1343.2 L1200.1 1354.2 L1208.4 1368.0 L1211.1 1381.8 L1200.1 1384.6 L1194.6 1379.0 L1191.8 1387.3 L1175.2 1385.9 L1169.7 1387.3 L1180.8 1392.8 L1186.3 1401.1 L1184.9 1409.4 L1197.3 1417.7 L1201.5 1428.7 L1208.4 1438.4 L1216.6 1450.8 L1224.9 1464.6 L1227.7 1471.5 L1219.4 1478.4 L1212.5 1485.3 L1220.8 1497.7 L1233.2 1508.7 L1252.5 1525.3 L1266.3 1536.3 L1282.9 1547.4 L1274.6 1555.6 L1258.0 1558.4 L1238.7 1555.6 L1224.9 1547.4 L1219.4 1541.8 L1220.8 1555.6 L1211.1 1563.9 L1202.8 1580.5 L1195.9 1597.0 L1194.6 1610.0 L1194.0 1620.0ZM1332.5 1620.0 L1332.5 1610.0 L1338.0 1580.5 L1346.3 1563.9 L1360.1 1548.7 L1368.4 1558.4 L1379.4 1555.6 L1390.5 1536.3 L1404.0 1529.4 L1414.0 1529.0 L1414.0 1582.0 L1404.0 1581.9 L1382.2 1577.7 L1360.1 1586.0 L1346.3 1610.0 L1345.0 1620.0ZM1403.0 60.0 L1403.0 70.4 L1398.1 81.2 L1393.2 88.1 L1386.4 95.0 L1381.5 102.8 L1374.6 114.6 L1367.7 125.4 L1362.8 133.2 L1356.9 141.1 L1352.3 150.3 L1350.7 169.6 L1347.5 184.0 L1352.3 198.5 L1361.9 217.8 L1378.0 230.6 L1384.3 240.0 L1387.2 251.5 L1392.9 258.7 L1395.1 260.2 L1396.5 248.6 L1397.3 240.0 L1404.0 211.4 L1414.0 200.0 L1414.0 60.0ZM1414.0 460.0 L1404.0 463.2 L1393.6 464.7 L1380.7 469.1 L1376.4 486.3 L1370.6 509.4 L1364.9 523.7 L1369.2 535.3 L1367.7 561.2 L1363.4 578.4 L1363.4 595.7 L1366.3 612.9 L1362.0 620.1 L1353.4 620.1 L1341.8 610.1 L1333.2 604.3 L1328.9 612.9 L1330.3 624.5 L1337.5 636.0 L1341.8 659.0 L1346.2 679.1 L1350.5 696.4 L1359.1 699.3 L1364.9 710.8 L1369.2 719.4 L1376.4 718.0 L1377.8 693.5 L1387.8 699.3 L1399.4 707.9 L1400.8 716.5 L1390.8 728.1 L1382.1 736.7 L1379.2 746.8 L1381.4 760.2 L1388.1 755.7 L1397.1 760.2 L1404.0 762.4 L1414.0 762.0ZM1414.0 775.0 L1404.0 775.5 L1387.9 777.0 L1367.7 778.4 L1364.9 784.2 L1376.4 787.0 L1386.4 800.0 L1390.8 814.4 L1396.5 831.7 L1399.4 843.2 L1404.0 846.0 L1414.0 846.0ZM665.4 422.1 L673.1 414.3 L686.0 406.6 L698.9 393.7 L701.5 386.0 L711.8 383.4 L724.6 379.6 L740.1 379.6 L753.0 377.0 L763.3 374.4 L771.0 375.7 L778.7 371.8 L786.4 369.3 L794.2 373.1 L801.9 380.9 L807.0 398.9 L796.7 404.0 L789.0 416.9 L781.3 432.4 L776.1 447.8 L772.2 457.3 L761.9 461.2 L749.0 474.1 L733.6 477.9 L728.4 485.7 L718.1 488.2 L707.8 483.1 L684.6 475.4 L669.2 467.6 L665.3 445.8 L666.6 430.0ZM1177.5 1095.1 L1183.7 1076.7 L1191.8 1066.5 L1206.1 1054.2 L1218.3 1042.0 L1224.5 1040.0 L1242.8 1021.6 L1265.3 995.1 L1285.7 970.6 L1295.9 965.5 L1302.0 956.3 L1300.0 942.0 L1304.0 931.8 L1314.2 910.4 L1317.3 915.5 L1316.3 929.8 L1320.4 946.1 L1325.5 962.4 L1320.4 969.6 L1310.2 972.6 L1302.0 978.7 L1296.9 988.9 L1283.6 992.0 L1271.4 998.1 L1270.4 1007.3 L1261.2 1027.7 L1251.0 1040.0 L1242.8 1043.0 L1232.6 1050.2 L1224.5 1063.4 L1214.3 1070.6 L1200.0 1077.7 L1195.9 1083.8 L1187.7 1087.9ZM381.7 969.3 L386.9 966.7 L392.0 969.3 L393.7 976.1 L390.3 986.4 L388.6 998.5 L386.9 989.9 L381.7 976.1ZM148.0 1006.0 L153.0 1007.0 L154.0 1013.0 L150.0 1013.0ZM145.0 1021.0 L154.0 1019.0 L154.0 1027.0 L149.0 1030.0 L145.0 1027.0ZM160.0 1273.0 L170.0 1272.0 L169.0 1282.0 L162.0 1286.0ZM234.6 1483.4 L248.2 1478.8 L255.1 1487.9 L252.8 1499.3 L243.7 1503.8 L234.6 1497.0ZM271.0 1510.7 L296.0 1516.3 L298.3 1527.7 L289.2 1522.0 L273.3 1517.5ZM284.6 1524.3 L291.0 1530.0 L296.0 1540.2 L291.5 1549.3 L285.6 1540.2ZM298.3 1540.2 L327.8 1553.9 L330.1 1565.3 L307.4 1563.0 L297.1 1556.1ZM313.1 1538.0 L327.8 1542.5 L339.2 1556.1 L330.1 1557.3 L311.9 1545.9ZM337.0 1567.0 L344.0 1572.0 L346.0 1578.0 L338.0 1578.0ZM348.0 1556.0 L355.0 1558.0 L358.0 1567.0 L352.0 1568.0ZM348.0 1541.0 L353.0 1541.0 L355.0 1548.0 L351.0 1549.0ZM368.8 1526.6 L375.6 1519.8 L384.7 1522.0 L387.0 1526.6 L377.9 1532.3ZM384.0 1542.0 L393.0 1537.0 L398.0 1541.0 L395.0 1550.0 L388.0 1548.0ZM394.0 1556.0 L399.0 1555.0 L403.0 1563.0 L398.0 1564.0ZM402.9 1542.5 L423.4 1535.7 L428.0 1540.2 L425.7 1556.1 L416.6 1553.9 L405.2 1547.0ZM417.0 1595.0 L421.0 1596.0 L430.0 1608.0 L424.0 1607.0ZM373.0 1557.0 L376.0 1558.0 L377.0 1563.0 L374.0 1562.0ZM284.7 861.7 L287.7 862.2 L295.0 872.5 L286.2 871.5ZM299.4 893.6 L304.3 889.2 L305.3 892.6 L304.3 897.5ZM327.5 908.5 L330.0 908.0 L331.0 913.0 L329.0 915.5 L327.0 913.0ZM342.0 946.0 L346.0 946.5 L348.0 950.0 L345.0 952.5ZM128.2 1196.8 L132.1 1204.6 L129.2 1208.6 L125.7 1203.7ZM128.2 1214.4 L140.0 1211.5 L144.9 1217.4 L141.9 1222.3 L134.1 1225.2 L130.1 1219.4ZM90.9 1122.2 L93.8 1125.1 L92.9 1133.0 L90.9 1132.0ZM90.9 1138.9 L94.8 1140.8 L96.8 1149.7 L93.8 1147.7 L90.9 1143.8ZM973.5 239.5 L978.0 236.5 L985.0 235.5 L985.5 238.5 L980.0 240.5 L975.0 241.5ZM993.2 235.0 L1001.1 236.0 L999.0 243.0 L996.0 241.0ZM563.3 325.2 L573.1 328.2 L574.3 329.5 L571.9 334.4 L567.0 333.1 L563.3 328.9ZM627.6 1364.4 L641.3 1350.7 L643.3 1354.6 L651.1 1364.4 L651.1 1374.2 L645.2 1384.0 L637.4 1386.0 L633.3 1382.1 L642.3 1376.2 L635.4 1374.2 L628.6 1370.3ZM489.3 1420.3 L499.0 1428.7 L492.3 1435.1ZM520.0 1410.0 L524.0 1411.0 L526.0 1419.0 L521.0 1418.0ZM674.0 1433.0 L679.0 1424.0 L682.0 1428.0 L677.0 1435.0ZM674.0 1434.0 L678.0 1425.0 L681.0 1427.0 L677.0 1434.0ZM400.0 1433.0 L404.0 1436.0 L402.0 1443.0 L399.0 1440.0ZM542.0 1070.0 L547.0 1069.0 L548.0 1074.0 L543.0 1075.0ZM762.7 313.8 L777.1 311.4 L778.7 317.0 L767.5 316.2ZM1228.0 98.0 L1233.0 97.0 L1235.5 101.5 L1233.0 105.0 L1229.0 104.5ZM1241.0 102.5 L1249.0 98.8 L1252.0 105.6 L1244.0 105.0ZM823.9 1440.4 L828.1 1439.9 L830.5 1462.4 L826.9 1463.7ZM1168.3 1158.3 L1180.8 1156.9 L1182.1 1163.8 L1175.2 1169.3 L1169.7 1172.1ZM1334.1 1293.5 L1346.3 1286.6 L1354.6 1281.1 L1358.8 1286.6 L1351.8 1292.1 L1340.8 1297.6 L1334.1 1297.6ZM1201.0 1346.0 L1208.0 1343.0 L1212.0 1350.0 L1206.0 1354.0 L1201.0 1352.0ZM1198.0 1399.0 L1203.0 1399.0 L1205.0 1407.0 L1201.0 1406.0ZM1399.0 1236.0 L1404.0 1232.0 L1414.0 1230.0 L1414.0 1243.0 L1403.0 1247.0 L1399.0 1243.0ZM1336.7 852.2 L1344.9 854.3 L1353.0 859.4 L1358.1 858.4 L1364.2 865.5 L1362.2 870.6 L1351.0 870.6 L1340.8 864.5 L1335.7 858.4ZM1336.7 873.7 L1344.9 872.6 L1348.5 882.8 L1342.8 891.0 L1338.7 886.9ZM1327.5 904.3 L1336.7 900.2 L1336.7 906.3 L1332.6 909.4ZM1330.6 958.3 L1336.7 954.3 L1344.9 959.4 L1338.7 964.5 L1330.6 965.5ZM1180.0 1098.0 L1185.0 1097.0 L1186.0 1104.0 L1181.0 1105.0ZM1158.5 1112.0 L1169.5 1111.5 L1170.4 1122.0 L1166.0 1129.7 L1160.0 1122.0ZM1167.3 1162.0 L1180.0 1157.0 L1181.6 1166.0 L1170.0 1172.6ZM1349.0 756.0 L1355.0 758.0 L1360.5 766.9 L1354.0 764.0Z" fill="none" stroke="#000" stroke-width="2.6" stroke-linejoin="round"/>
<g fill="none" stroke="#000" stroke-width="1.5"><ellipse cx="845.5" cy="610.4" rx="8.6" ry="3.6" transform="rotate(-10 845.5 610.4)"/><ellipse cx="866.1" cy="603.1" rx="3.9" ry="1.7" transform="rotate(0 866.1 603.1)"/><ellipse cx="851.9" cy="620.7" rx="3.4" ry="1.6" transform="rotate(0 851.9 620.7)"/><ellipse cx="895.3" cy="621.1" rx="5.2" ry="2.2" transform="rotate(-15 895.3 621.1)"/><ellipse cx="844.2" cy="1133.8" rx="6.5" ry="12" transform="rotate(10 844.2 1133.8)"/><ellipse cx="1026" cy="1107" rx="7" ry="3" transform="rotate(-10 1026 1107)"/><ellipse cx="1056" cy="1093.4" rx="2.5" ry="1.5" transform="rotate(0 1056 1093.4)"/><path d="M717.7 1158.1 L720.6 1149.3 L729.4 1142.8 L742.7 1144.9 L735.3 1146.3 L725.0 1150.7ZM741.0 1119.0 L746.0 1117.0 L751.0 1122.0 L749.0 1129.0 L743.0 1130.0 L740.0 1125.0ZM771.0 1106.0 L779.0 1104.0 L784.0 1105.0 L785.0 1116.0 L781.0 1116.0 L778.0 1110.0 L772.0 1110.0ZM983.0 1141.0 L988.0 1137.0 L995.0 1131.0 L1003.0 1126.0 L1011.0 1121.0 L1016.0 1120.0 L1014.0 1127.0 L1006.0 1134.0 L996.0 1140.0 L989.0 1141.0ZM835.0 557.0 L840.0 555.0 L843.0 558.0 L837.0 560.0Z"/></g>
<g fill="#000"><circle cx="836.1" cy="597.1" r="1.4"/><circle cx="840.3" cy="595.8" r="1.4"/><circle cx="849.4" cy="594.9" r="1.4"/><circle cx="849.8" cy="591.5" r="1.4"/><circle cx="845.5" cy="588.9" r="1.4"/><circle cx="878.1" cy="564" r="1.4"/><circle cx="881.5" cy="566.6" r="1.4"/><circle cx="884.1" cy="569.2" r="1.4"/><circle cx="885" cy="572.6" r="1.4"/><circle cx="878.1" cy="569.2" r="1.4"/><circle cx="877.3" cy="577.8" r="1.4"/><circle cx="906.4" cy="585.5" r="1.4"/><circle cx="897" cy="593.2" r="1.4"/><circle cx="898.7" cy="594.9" r="1.4"/><circle cx="896.1" cy="598.4" r="1.4"/><circle cx="894.4" cy="601.8" r="1.4"/><circle cx="903.9" cy="600.1" r="1.4"/><circle cx="894.4" cy="606.1" r="1.4"/><circle cx="887.6" cy="606.5" r="1.4"/><circle cx="817.2" cy="637.4" r="1.4"/><circle cx="1009" cy="903.5" r="1.4"/><circle cx="1004.6" cy="908" r="1.4"/><circle cx="1000.2" cy="928.6" r="1.4"/><circle cx="1006" cy="927.1" r="1.4"/><circle cx="992.2" cy="938.3" r="1.4"/><circle cx="1006" cy="950" r="1.4"/><circle cx="1013.4" cy="950" r="1.4"/><circle cx="1019.9" cy="946.2" r="1.4"/><circle cx="1094.4" cy="943.3" r="1.4"/><circle cx="1095" cy="953.6" r="1.4"/><circle cx="1089" cy="963" r="1.4"/><circle cx="1019.3" cy="970.6" r="1.4"/><circle cx="1024.6" cy="973.6" r="1.4"/><circle cx="1000.2" cy="980.1" r="1.4"/><circle cx="1008.4" cy="981.8" r="1.4"/><circle cx="978.1" cy="988.9" r="1.4"/><circle cx="1020.8" cy="999.2" r="1.4"/><circle cx="1009" cy="1003.6" r="1.4"/><circle cx="1016.4" cy="1005.1" r="1.4"/><circle cx="1002.2" cy="1008.6" r="1.4"/><circle cx="1071.4" cy="1000.1" r="1.4"/><circle cx="1097.3" cy="1010.1" r="1.4"/><circle cx="1131.1" cy="1006.5" r="1.4"/><circle cx="1137" cy="1008.9" r="1.4"/><circle cx="1160" cy="1028" r="1.4"/><circle cx="1100.8" cy="1035.1" r="1.4"/><circle cx="1133.2" cy="1043.9" r="1.4"/><circle cx="1123.2" cy="1061" r="1.4"/><circle cx="925.1" cy="1015.4" r="1.4"/><circle cx="966.3" cy="1042.7" r="1.4"/><circle cx="966.3" cy="1055.7" r="1.4"/><circle cx="986.9" cy="1066.3" r="1.4"/><circle cx="997.8" cy="1069.8" r="1.4"/><circle cx="1025.2" cy="1061" r="1.4"/><circle cx="900.1" cy="1066" r="1.4"/><circle cx="886" cy="1060.1" r="1.4"/><circle cx="879.5" cy="1064.8" r="1.4"/><circle cx="845.7" cy="1077.2" r="1.4"/><circle cx="945.7" cy="1103.7" r="1.4"/><circle cx="943.7" cy="1110.4" r="1.4"/><circle cx="921.3" cy="1124.3" r="1.4"/><circle cx="981.6" cy="1117.8" r="1.4"/><circle cx="973.7" cy="1140.4" r="1.4"/><circle cx="976" cy="1157.2" r="1.4"/><circle cx="683.3" cy="961.8" r="1.4"/><circle cx="544.7" cy="1072.5" r="1.4"/><circle cx="816" cy="636" r="1.4"/><circle cx="624" cy="301" r="1.4"/><circle cx="627.6" cy="304.7" r="1.4"/><circle cx="576" cy="339.8" r="1.4"/><circle cx="579" cy="340" r="1.4"/><circle cx="587.6" cy="552.9" r="1.4"/><circle cx="502.6" cy="416.9" r="1.4"/><circle cx="497.9" cy="453.6" r="1.4"/><circle cx="499.5" cy="455" r="1.4"/><circle cx="609.5" cy="369" r="1.4"/><circle cx="611.5" cy="368.5" r="1.4"/></g>
<path d="M584.8 322.1 L589.0 312.9 L592.1 300.7 L598.2 297.6 L607.4 293.3 L616.6 288.4 L625.8 287.8 L627.1 291.5 L619.7 294.5 L610.5 299.4 L604.4 308.0 L600.1 319.0 L596.4 328.2 L594.0 333.8 L590.3 331.3 L586.6 327.6Z" fill="#4a4a4a" stroke="#000" stroke-width="1.5"/>
<path d="M158.6 1133.0 L164.5 1130.5 L167.4 1135.0 L166.5 1142.8 L172.3 1144.8 L182.2 1164.4 L176.3 1165.4 L173.3 1166.4 L165.5 1154.6 L159.6 1145.8 L158.6 1138.9Z" fill="none" stroke="#000" stroke-width="2.4"/>
<path d="M619.1 306.8 L615.0 313.0 L611.1 319.0" fill="none" stroke="#000" stroke-width="3" stroke-linecap="round"/>
</g>
<rect x="89.8" y="70.0" width="1314.1" height="1539.8" fill="none" stroke="#000" stroke-width="2"/>
<text x="77.2" y="1492.8" font-family="'DejaVu Sans','Liberation Sans',sans-serif" font-size="22.3" text-anchor="end">2°N</text>
<text x="77.2" y="1369.6" font-family="'DejaVu Sans','Liberation Sans',sans-serif" font-size="22.3" text-anchor="end">4°N</text>
<text x="77.2" y="1246.4" font-family="'DejaVu Sans','Liberation Sans',sans-serif" font-size="22.3" text-anchor="end">6°N</text>
<text x="77.2" y="1123.2" font-family="'DejaVu Sans','Liberation Sans',sans-serif" font-size="22.3" text-anchor="end">8°N</text>
<text x="77.2" y="1000.1" font-family="'DejaVu Sans','Liberation Sans',sans-serif" font-size="22.3" text-anchor="end">10°N</text>
<text x="77.2" y="876.9" font-family="'DejaVu Sans','Liberation Sans',sans-serif" font-size="22.3" text-anchor="end">12°N</text>
<text x="77.2" y="753.7" font-family="'DejaVu Sans','Liberation Sans',sans-serif" font-size="22.3" text-anchor="end">14°N</text>
<text x="77.2" y="630.5" font-family="'DejaVu Sans','Liberation Sans',sans-serif" font-size="22.3" text-anchor="end">16°N</text>
<text x="77.2" y="507.3" font-family="'DejaVu Sans','Liberation Sans',sans-serif" font-size="22.3" text-anchor="end">18°N</text>
<text x="77.2" y="384.2" font-family="'DejaVu Sans','Liberation Sans',sans-serif" font-size="22.3" text-anchor="end">20°N</text>
<text x="77.2" y="261.0" font-family="'DejaVu Sans','Liberation Sans',sans-serif" font-size="22.3" text-anchor="end">22°N</text>
<text x="77.2" y="137.8" font-family="'DejaVu Sans','Liberation Sans',sans-serif" font-size="22.3" text-anchor="end">24°N</text>
<text x="149.4" y="1642.1" font-family="'DejaVu Sans','Liberation Sans',sans-serif" font-size="22.3" text-anchor="middle">100°E</text>
<text x="268.9" y="1642.1" font-family="'DejaVu Sans','Liberation Sans',sans-serif" font-size="22.3" text-anchor="middle">102°E</text>
<text x="388.5" y="1642.1" font-family="'DejaVu Sans','Liberation Sans',sans-serif" font-size="22.3" text-anchor="middle">104°E</text>
<text x="508.0" y="1642.1" font-family="'DejaVu Sans','Liberation Sans',sans-serif" font-size="22.3" text-anchor="middle">106°E</text>
<text x="627.5" y="1642.1" font-family="'DejaVu Sans','Liberation Sans',sans-serif" font-size="22.3" text-anchor="middle">108°E</text>
<text x="747.1" y="1642.1" font-family="'DejaVu Sans','Liberation Sans',sans-serif" font-size="22.3" text-anchor="middle">110°E</text>
<text x="866.6" y="1642.1" font-family="'DejaVu Sans','Liberation Sans',sans-serif" font-size="22.3" text-anchor="middle">112°E</text>
<text x="986.2" y="1642.1" font-family="'DejaVu Sans','Liberation Sans',sans-serif" font-size="22.3" text-anchor="middle">114°E</text>
<text x="1105.7" y="1642.1" font-family="'DejaVu Sans','Liberation Sans',sans-serif" font-size="22.3" text-anchor="middle">116°E</text>
<text x="1225.2" y="1642.1" font-family="'DejaVu Sans','Liberation Sans',sans-serif" font-size="22.3" text-anchor="middle">118°E</text>
<text x="1344.8" y="1642.1" font-family="'DejaVu Sans','Liberation Sans',sans-serif" font-size="22.3" text-anchor="middle">120°E</text>
<text x="747.8" y="53" font-family="'DejaVu Sans','Liberation Sans',sans-serif" font-size="38.9" text-anchor="middle">Độ cao sóng lớn nhất ngày 14-10-2025</text>
<path d="M499.6 302.7 L502.7 311.3 L511.8 311.5 L504.5 317.1 L507.1 325.9 L499.6 320.7 L492.1 325.9 L494.7 317.1 L487.4 311.5 L496.5 311.3Z" fill="#ff0000"/>
<circle cx="549.4" cy="325.9" r="9.4" fill="#ff0000"/>
<circle cx="640.3" cy="622.1" r="9.4" fill="#ff0000"/>
<circle cx="699.3" cy="856.7" r="9.4" fill="#ff0000"/>
<circle cx="550.6" cy="946.1" r="9.4" fill="#ff0000"/>
<text x="499.2" y="299.1" font-family="'DejaVu Sans','Liberation Sans',sans-serif" font-size="27.9" text-anchor="middle" fill="#ff0000">Hà Nội</text>
<text x="472.8" y="358.6" font-family="'DejaVu Sans','Liberation Sans',sans-serif" font-size="27.9" text-anchor="middle" fill="#ff0000">Hải Phòng</text>
<text x="639.5" y="605.3" font-family="'DejaVu Sans','Liberation Sans',sans-serif" font-size="27.9" text-anchor="middle" fill="#ff0000">Đà Nẵng</text>
<text x="698.2" y="840.5" font-family="'DejaVu Sans','Liberation Sans',sans-serif" font-size="27.9" text-anchor="middle" fill="#ff0000">Nha Trang</text>
<text x="549.7" y="929.2" font-family="'DejaVu Sans','Liberation Sans',sans-serif" font-size="27.9" text-anchor="middle" fill="#ff0000">TP.HCM</text>
<text x="866" y="553.3" font-family="'DejaVu Sans','Liberation Sans',sans-serif" font-size="25.3" text-anchor="middle" fill="#ff0000">Đặc khu Hoàng Sa</text>
<text x="866.8" y="586.2" font-family="'DejaVu Sans','Liberation Sans',sans-serif" font-size="25.3" text-anchor="middle" fill="#ff0000">(TP. Đà Nẵng - Việt Nam)</text>
<text x="1023.9" y="808.7" font-family="'DejaVu Sans','Liberation Sans',sans-serif" font-size="34.2" text-anchor="middle" fill="#ff0000">BIỂN ĐÔNG</text>
<text x="925.4" y="1048.1" font-family="'DejaVu Sans','Liberation Sans',sans-serif" font-size="25.3" text-anchor="middle" fill="#ff0000">Đặc khu Trường Sa</text>
<text x="926.4" y="1076.4" font-family="'DejaVu Sans','Liberation Sans',sans-serif" font-size="25.3" text-anchor="middle" fill="#ff0000">(Tỉnh Khánh Hòa - Việt Nam)</text>
<rect x="1481.5" y="1364.56" width="61.9" height="95.64" fill="#aff0f5"/>
<rect x="1481.5" y="1269.22" width="61.9" height="95.64" fill="#6fe7e6"/>
<rect x="1481.5" y="1173.88" width="61.9" height="95.64" fill="#00a459"/>
<rect x="1481.5" y="1078.55" width="61.9" height="95.64" fill="#4daffe"/>
<rect x="1481.5" y="983.21" width="61.9" height="95.64" fill="#3380ff"/>
<rect x="1481.5" y="887.87" width="61.9" height="95.64" fill="#1f3f99"/>
<rect x="1481.5" y="792.53" width="61.9" height="95.64" fill="#4b2a78"/>
<rect x="1481.5" y="697.19" width="61.9" height="95.64" fill="#ff66c8"/>
<rect x="1481.5" y="601.85" width="61.9" height="95.64" fill="#ff33a8"/>
<rect x="1481.5" y="506.52" width="61.9" height="95.64" fill="#e6318a"/>
<rect x="1481.5" y="411.18" width="61.9" height="95.64" fill="#cc0066"/>
<rect x="1481.5" y="315.84" width="61.9" height="95.64" fill="#990050"/>
<rect x="1481.5" y="220.50" width="61.9" height="95.64" fill="#808080"/>
<rect x="1481.5" y="220.5" width="61.9" height="1239.4" fill="none" stroke="#000" stroke-width="1.1"/>
<path d="M1543.4 1459.9h9.5" stroke="#000" stroke-width="1.5"/>
<text x="1562.9" y="1468.8" font-family="'DejaVu Sans','Liberation Sans',sans-serif" font-size="22.3">0.5</text>
<path d="M1543.4 1364.6h9.5" stroke="#000" stroke-width="1.5"/>
<text x="1562.9" y="1373.5" font-family="'DejaVu Sans','Liberation Sans',sans-serif" font-size="22.3">1.0</text>
<path d="M1543.4 1269.2h9.5" stroke="#000" stroke-width="1.5"/>
<text x="1562.9" y="1278.1" font-family="'DejaVu Sans','Liberation Sans',sans-serif" font-size="22.3">1.5</text>
<path d="M1543.4 1173.9h9.5" stroke="#000" stroke-width="1.5"/>
<text x="1562.9" y="1182.8" font-family="'DejaVu Sans','Liberation Sans',sans-serif" font-size="22.3">2.0</text>
<path d="M1543.4 1078.5h9.5" stroke="#000" stroke-width="1.5"/>
<text x="1562.9" y="1087.4" font-family="'DejaVu Sans','Liberation Sans',sans-serif" font-size="22.3">3.0</text>
<path d="M1543.4 983.2h9.5" stroke="#000" stroke-width="1.5"/>
<text x="1562.9" y="992.1" font-family="'DejaVu Sans','Liberation Sans',sans-serif" font-size="22.3">3.5</text>
<path d="M1543.4 887.9h9.5" stroke="#000" stroke-width="1.5"/>
<text x="1562.9" y="896.8" font-family="'DejaVu Sans','Liberation Sans',sans-serif" font-size="22.3">4.0</text>
<path d="M1543.4 792.5h9.5" stroke="#000" stroke-width="1.5"/>
<text x="1562.9" y="801.4" font-family="'DejaVu Sans','Liberation Sans',sans-serif" font-size="22.3">5.0</text>
<path d="M1543.4 697.2h9.5" stroke="#000" stroke-width="1.5"/>
<text x="1562.9" y="706.1" font-family="'DejaVu Sans','Liberation Sans',sans-serif" font-size="22.3">6.0</text>
<path d="M1543.4 601.9h9.5" stroke="#000" stroke-width="1.5"/>
<text x="1562.9" y="610.8" font-family="'DejaVu Sans','Liberation Sans',sans-serif" font-size="22.3">7.0</text>
<path d="M1543.4 506.5h9.5" stroke="#000" stroke-width="1.5"/>
<text x="1562.9" y="515.4" font-family="'DejaVu Sans','Liberation Sans',sans-serif" font-size="22.3">8.0</text>
<path d="M1543.4 411.2h9.5" stroke="#000" stroke-width="1.5"/>
<text x="1562.9" y="420.1" font-family="'DejaVu Sans','Liberation Sans',sans-serif" font-size="22.3">9.0</text>
<path d="M1543.4 315.8h9.5" stroke="#000" stroke-width="1.5"/>
<text x="1562.9" y="324.7" font-family="'DejaVu Sans','Liberation Sans',sans-serif" font-size="22.3">10.0</text>
<path d="M1543.4 220.5h9.5" stroke="#000" stroke-width="1.5"/>
<text x="1562.9" y="229.4" font-family="'DejaVu Sans','Liberation Sans',sans-serif" font-size="22.3">12.0</text>
<text x="1511.9" y="197.9" font-family="'DejaVu Sans','Liberation Sans',sans-serif" font-size="22.3" text-anchor="middle">Độ cao sóng (m)</text>
</svg></body></html>
